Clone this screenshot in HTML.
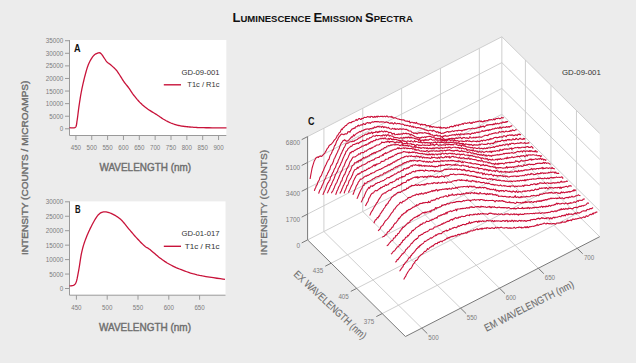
<!DOCTYPE html>
<html><head><meta charset="utf-8"><style>html,body{margin:0;padding:0;background:#ececec;}svg{display:block;}</style></head>
<body><svg width="636" height="363" viewBox="0 0 636 363">
<rect width="636" height="363" fill="#ececec"/>
<text x="232.5" y="22.3" font-family="Liberation Sans" font-weight="bold" fill="#111" textLength="180.3" lengthAdjust="spacingAndGlyphs"><tspan font-size="11.9">L</tspan><tspan font-size="8.7">UMINESCENCE</tspan><tspan font-size="8.7"> </tspan><tspan font-size="11.9">E</tspan><tspan font-size="8.7">MISSION</tspan><tspan font-size="8.7"> </tspan><tspan font-size="11.9">S</tspan><tspan font-size="8.7">PECTRA</tspan></text>
<rect x="69.5" y="40" width="156.8" height="95.5" fill="#fff"/>
<path d="M69.5 40 V135.5 H226.3" fill="none" stroke="#9a9a9a" stroke-width="1"/>
<text x="63.3" y="131.3" font-family="Liberation Sans" font-size="7" fill="#7c7c7c" text-anchor="end" font-weight="normal" textLength="3.5" lengthAdjust="spacingAndGlyphs" >0</text>
<text x="63.3" y="118.72" font-family="Liberation Sans" font-size="7" fill="#7c7c7c" text-anchor="end" font-weight="normal" textLength="14" lengthAdjust="spacingAndGlyphs" >5000</text>
<text x="63.3" y="106.13" font-family="Liberation Sans" font-size="7" fill="#7c7c7c" text-anchor="end" font-weight="normal" textLength="17.5" lengthAdjust="spacingAndGlyphs" >10000</text>
<text x="63.3" y="93.55" font-family="Liberation Sans" font-size="7" fill="#7c7c7c" text-anchor="end" font-weight="normal" textLength="17.5" lengthAdjust="spacingAndGlyphs" >15000</text>
<text x="63.3" y="80.96" font-family="Liberation Sans" font-size="7" fill="#7c7c7c" text-anchor="end" font-weight="normal" textLength="17.5" lengthAdjust="spacingAndGlyphs" >20000</text>
<text x="63.3" y="68.38" font-family="Liberation Sans" font-size="7" fill="#7c7c7c" text-anchor="end" font-weight="normal" textLength="17.5" lengthAdjust="spacingAndGlyphs" >25000</text>
<text x="63.3" y="55.79" font-family="Liberation Sans" font-size="7" fill="#7c7c7c" text-anchor="end" font-weight="normal" textLength="17.5" lengthAdjust="spacingAndGlyphs" >30000</text>
<text x="63.3" y="43.21" font-family="Liberation Sans" font-size="7" fill="#7c7c7c" text-anchor="end" font-weight="normal" textLength="17.5" lengthAdjust="spacingAndGlyphs" >35000</text>
<text x="75.9" y="149.9" font-family="Liberation Sans" font-size="7" fill="#7c7c7c" text-anchor="middle" font-weight="normal" textLength="10.3" lengthAdjust="spacingAndGlyphs" >450</text>
<text x="91.75" y="149.9" font-family="Liberation Sans" font-size="7" fill="#7c7c7c" text-anchor="middle" font-weight="normal" textLength="10.3" lengthAdjust="spacingAndGlyphs" >500</text>
<text x="107.6" y="149.9" font-family="Liberation Sans" font-size="7" fill="#7c7c7c" text-anchor="middle" font-weight="normal" textLength="10.3" lengthAdjust="spacingAndGlyphs" >550</text>
<text x="123.45" y="149.9" font-family="Liberation Sans" font-size="7" fill="#7c7c7c" text-anchor="middle" font-weight="normal" textLength="10.3" lengthAdjust="spacingAndGlyphs" >600</text>
<text x="139.3" y="149.9" font-family="Liberation Sans" font-size="7" fill="#7c7c7c" text-anchor="middle" font-weight="normal" textLength="10.3" lengthAdjust="spacingAndGlyphs" >650</text>
<text x="155.15" y="149.9" font-family="Liberation Sans" font-size="7" fill="#7c7c7c" text-anchor="middle" font-weight="normal" textLength="10.3" lengthAdjust="spacingAndGlyphs" >700</text>
<text x="171" y="149.9" font-family="Liberation Sans" font-size="7" fill="#7c7c7c" text-anchor="middle" font-weight="normal" textLength="10.3" lengthAdjust="spacingAndGlyphs" >750</text>
<text x="186.85" y="149.9" font-family="Liberation Sans" font-size="7" fill="#7c7c7c" text-anchor="middle" font-weight="normal" textLength="10.3" lengthAdjust="spacingAndGlyphs" >800</text>
<text x="202.7" y="149.9" font-family="Liberation Sans" font-size="7" fill="#7c7c7c" text-anchor="middle" font-weight="normal" textLength="10.3" lengthAdjust="spacingAndGlyphs" >850</text>
<text x="218.55" y="149.9" font-family="Liberation Sans" font-size="7" fill="#7c7c7c" text-anchor="middle" font-weight="normal" textLength="10.3" lengthAdjust="spacingAndGlyphs" >900</text>
<path d="M65 128.8 H69.5 M65 116.22 H69.5 M65 103.63 H69.5 M65 91.05 H69.5 M65 78.46 H69.5 M65 65.88 H69.5 M65 53.29 H69.5 M65 40.71 H69.5 M75.9 135.5 V140 M91.75 135.5 V140 M107.6 135.5 V140 M123.45 135.5 V140 M139.3 135.5 V140 M155.15 135.5 V140 M171 135.5 V140 M186.85 135.5 V140 M202.7 135.5 V140 M218.55 135.5 V140" stroke="#9a9a9a" stroke-width="1" fill="none"/>
<path d="M69.5 127.7 L69.98 127.71 L70.66 127.78 L71.46 127.86 L72.34 127.92 L73.24 127.94 L74.08 127.86 L74.82 127.66 L75.4 127.3 L75.81 126.8 L76.12 126.21 L76.34 125.52 L76.51 124.72 L76.64 123.83 L76.77 122.83 L76.91 121.72 L77.1 120.5 L77.32 119.13 L77.53 117.61 L77.74 115.96 L77.96 114.21 L78.18 112.39 L78.41 110.55 L78.65 108.71 L78.9 106.9 L79.17 105.1 L79.44 103.26 L79.72 101.4 L80.01 99.53 L80.31 97.64 L80.62 95.75 L80.95 93.87 L81.3 92 L81.67 90.13 L82.05 88.24 L82.45 86.34 L82.87 84.44 L83.29 82.57 L83.73 80.73 L84.16 78.93 L84.6 77.2 L85.04 75.51 L85.47 73.84 L85.91 72.21 L86.35 70.62 L86.81 69.07 L87.28 67.58 L87.78 66.16 L88.3 64.8 L88.85 63.5 L89.44 62.24 L90.05 61.02 L90.67 59.88 L91.3 58.8 L91.94 57.8 L92.57 56.9 L93.2 56.1 L93.83 55.41 L94.49 54.82 L95.16 54.32 L95.83 53.91 L96.47 53.57 L97.1 53.29 L97.67 53.07 L98.2 52.9 L98.66 52.78 L99.06 52.73 L99.42 52.73 L99.75 52.8 L100.07 52.93 L100.39 53.12 L100.73 53.38 L101.1 53.7 L101.51 54.12 L101.94 54.65 L102.38 55.26 L102.82 55.93 L103.27 56.62 L103.7 57.3 L104.11 57.93 L104.5 58.5 L104.85 59 L105.16 59.48 L105.46 59.94 L105.74 60.38 L106.02 60.8 L106.32 61.2 L106.64 61.6 L107 62 L107.39 62.37 L107.78 62.7 L108.19 63 L108.62 63.31 L109.07 63.62 L109.55 63.96 L110.06 64.35 L110.6 64.8 L111.2 65.31 L111.86 65.88 L112.55 66.48 L113.27 67.12 L114 67.78 L114.71 68.45 L115.38 69.13 L116 69.8 L116.57 70.47 L117.1 71.16 L117.6 71.85 L118.08 72.56 L118.55 73.27 L119.03 74 L119.5 74.74 L120 75.5 L120.5 76.28 L121.01 77.09 L121.51 77.91 L122.01 78.74 L122.52 79.58 L123.04 80.41 L123.56 81.22 L124.1 82 L124.65 82.75 L125.2 83.45 L125.76 84.14 L126.32 84.82 L126.9 85.52 L127.49 86.23 L128.09 86.99 L128.7 87.8 L129.32 88.67 L129.95 89.6 L130.58 90.56 L131.23 91.54 L131.89 92.54 L132.57 93.54 L133.28 94.53 L134 95.5 L134.75 96.46 L135.52 97.42 L136.31 98.38 L137.11 99.34 L137.94 100.29 L138.78 101.22 L139.63 102.13 L140.5 103 L141.38 103.84 L142.27 104.66 L143.18 105.45 L144.1 106.22 L145.04 106.98 L146 107.72 L146.99 108.46 L148 109.2 L149.06 109.93 L150.17 110.66 L151.31 111.38 L152.48 112.09 L153.63 112.79 L154.77 113.48 L155.86 114.15 L156.9 114.8 L157.88 115.44 L158.81 116.07 L159.7 116.68 L160.57 117.28 L161.43 117.86 L162.28 118.43 L163.13 118.98 L164 119.5 L164.87 120 L165.73 120.49 L166.59 120.95 L167.45 121.4 L168.31 121.83 L169.17 122.24 L170.03 122.63 L170.9 123 L171.78 123.35 L172.66 123.69 L173.55 124 L174.44 124.29 L175.34 124.57 L176.23 124.83 L177.12 125.07 L178 125.3 L178.86 125.5 L179.69 125.68 L180.5 125.84 L181.32 125.99 L182.16 126.12 L183.04 126.25 L183.98 126.37 L185 126.5 L186.12 126.63 L187.32 126.76 L188.59 126.89 L189.89 127.01 L191.21 127.12 L192.52 127.22 L193.79 127.32 L195 127.4 L196.05 127.47 L196.94 127.52 L197.74 127.56 L198.55 127.59 L199.46 127.62 L200.56 127.65 L201.95 127.67 L203.7 127.7 L206.03 127.73 L208.94 127.76 L212.22 127.79 L215.64 127.82 L219 127.84 L222.07 127.87 L224.64 127.89 L226.5 127.9" fill="none" stroke="#c8133a" stroke-width="1.3" stroke-linejoin="round"/>
<text x="73.9" y="51.6" font-family="Liberation Sans" font-size="10.4" fill="#111" text-anchor="start" font-weight="bold" textLength="6.6" lengthAdjust="spacingAndGlyphs" >A</text>
<text x="219.5" y="74.7" font-family="Liberation Sans" font-size="7.5" fill="#333" text-anchor="end" font-weight="normal" textLength="38" lengthAdjust="spacingAndGlyphs" >GD-09-001</text>
<path d="M163.8 84.8 H181" stroke="#c8133a" stroke-width="1.4"/>
<text x="187.3" y="87.4" font-family="Liberation Sans" font-size="7.5" fill="#333" text-anchor="start" font-weight="normal" textLength="32.2" lengthAdjust="spacingAndGlyphs" >T1c / R1c</text>
<rect x="69.5" y="201.4" width="156" height="93.8" fill="#fff"/>
<path d="M69.5 201.4 V295.2 H225.5" fill="none" stroke="#9a9a9a" stroke-width="1"/>
<text x="63.3" y="291" font-family="Liberation Sans" font-size="7" fill="#7c7c7c" text-anchor="end" font-weight="normal" textLength="3.5" lengthAdjust="spacingAndGlyphs" >0</text>
<text x="63.3" y="276.55" font-family="Liberation Sans" font-size="7" fill="#7c7c7c" text-anchor="end" font-weight="normal" textLength="14" lengthAdjust="spacingAndGlyphs" >5000</text>
<text x="63.3" y="262.1" font-family="Liberation Sans" font-size="7" fill="#7c7c7c" text-anchor="end" font-weight="normal" textLength="17.5" lengthAdjust="spacingAndGlyphs" >10000</text>
<text x="63.3" y="247.65" font-family="Liberation Sans" font-size="7" fill="#7c7c7c" text-anchor="end" font-weight="normal" textLength="17.5" lengthAdjust="spacingAndGlyphs" >15000</text>
<text x="63.3" y="233.2" font-family="Liberation Sans" font-size="7" fill="#7c7c7c" text-anchor="end" font-weight="normal" textLength="17.5" lengthAdjust="spacingAndGlyphs" >20000</text>
<text x="63.3" y="218.75" font-family="Liberation Sans" font-size="7" fill="#7c7c7c" text-anchor="end" font-weight="normal" textLength="17.5" lengthAdjust="spacingAndGlyphs" >25000</text>
<text x="63.3" y="204.3" font-family="Liberation Sans" font-size="7" fill="#7c7c7c" text-anchor="end" font-weight="normal" textLength="17.5" lengthAdjust="spacingAndGlyphs" >30000</text>
<text x="76.4" y="309.8" font-family="Liberation Sans" font-size="7" fill="#7c7c7c" text-anchor="middle" font-weight="normal" textLength="10.3" lengthAdjust="spacingAndGlyphs" >450</text>
<text x="107.2" y="309.8" font-family="Liberation Sans" font-size="7" fill="#7c7c7c" text-anchor="middle" font-weight="normal" textLength="10.3" lengthAdjust="spacingAndGlyphs" >500</text>
<text x="138" y="309.8" font-family="Liberation Sans" font-size="7" fill="#7c7c7c" text-anchor="middle" font-weight="normal" textLength="10.3" lengthAdjust="spacingAndGlyphs" >550</text>
<text x="168.8" y="309.8" font-family="Liberation Sans" font-size="7" fill="#7c7c7c" text-anchor="middle" font-weight="normal" textLength="10.3" lengthAdjust="spacingAndGlyphs" >600</text>
<text x="199.6" y="309.8" font-family="Liberation Sans" font-size="7" fill="#7c7c7c" text-anchor="middle" font-weight="normal" textLength="10.3" lengthAdjust="spacingAndGlyphs" >650</text>
<path d="M65 288.5 H69.5 M65 274.05 H69.5 M65 259.6 H69.5 M65 245.15 H69.5 M65 230.7 H69.5 M65 216.25 H69.5 M65 201.8 H69.5 M76.4 295.2 V299.7 M107.2 295.2 V299.7 M138 295.2 V299.7 M168.8 295.2 V299.7 M199.6 295.2 V299.7" stroke="#9a9a9a" stroke-width="1" fill="none"/>
<path d="M69.5 285.8 L69.84 285.78 L70.31 285.78 L70.87 285.78 L71.48 285.76 L72.12 285.72 L72.74 285.62 L73.31 285.45 L73.8 285.2 L74.21 284.91 L74.59 284.61 L74.93 284.28 L75.26 283.88 L75.57 283.38 L75.87 282.75 L76.18 281.97 L76.5 281 L76.83 279.81 L77.16 278.43 L77.48 276.89 L77.81 275.22 L78.13 273.46 L78.45 271.65 L78.78 269.81 L79.1 268 L79.42 266.15 L79.72 264.2 L80.02 262.2 L80.32 260.16 L80.63 258.12 L80.96 256.11 L81.31 254.16 L81.7 252.3 L82.11 250.55 L82.52 248.87 L82.95 247.25 L83.41 245.67 L83.89 244.09 L84.41 242.51 L84.98 240.88 L85.6 239.2 L86.29 237.43 L87.04 235.6 L87.84 233.72 L88.68 231.83 L89.54 229.96 L90.41 228.15 L91.26 226.42 L92.1 224.8 L92.92 223.26 L93.75 221.74 L94.57 220.26 L95.4 218.86 L96.23 217.55 L97.05 216.36 L97.88 215.3 L98.7 214.4 L99.51 213.67 L100.3 213.08 L101.08 212.63 L101.87 212.29 L102.66 212.05 L103.48 211.9 L104.32 211.82 L105.2 211.8 L106.12 211.86 L107.08 212.02 L108.06 212.28 L109.07 212.61 L110.08 213.01 L111.1 213.45 L112.11 213.92 L113.1 214.4 L114.08 214.9 L115.06 215.42 L116.03 215.98 L117.01 216.59 L117.98 217.24 L118.95 217.96 L119.93 218.74 L120.9 219.6 L121.87 220.56 L122.85 221.62 L123.82 222.76 L124.79 223.96 L125.77 225.18 L126.74 226.41 L127.72 227.63 L128.7 228.8 L129.68 229.95 L130.67 231.11 L131.66 232.27 L132.65 233.43 L133.64 234.58 L134.63 235.71 L135.62 236.82 L136.6 237.9 L137.59 238.97 L138.61 240.06 L139.63 241.13 L140.64 242.18 L141.64 243.19 L142.61 244.14 L143.53 245.02 L144.4 245.8 L145.18 246.44 L145.85 246.93 L146.47 247.33 L147.07 247.68 L147.68 248.03 L148.35 248.43 L149.11 248.94 L150 249.6 L151.03 250.43 L152.17 251.4 L153.39 252.46 L154.68 253.57 L155.99 254.71 L157.32 255.84 L158.63 256.91 L159.9 257.9 L161.12 258.81 L162.32 259.69 L163.5 260.53 L164.69 261.35 L165.91 262.15 L167.17 262.94 L168.5 263.72 L169.9 264.5 L171.37 265.28 L172.9 266.05 L174.47 266.8 L176.09 267.55 L177.77 268.28 L179.49 269 L181.27 269.71 L183.1 270.4 L184.94 271.07 L186.78 271.74 L188.65 272.38 L190.59 273.02 L192.62 273.64 L194.77 274.24 L197.09 274.83 L199.6 275.4 L202.52 275.98 L205.92 276.56 L209.59 277.15 L213.33 277.71 L216.94 278.24 L220.23 278.7 L222.98 279.1 L225 279.4" fill="none" stroke="#c8133a" stroke-width="1.3" stroke-linejoin="round"/>
<text x="75" y="213" font-family="Liberation Sans" font-size="10.4" fill="#111" text-anchor="start" font-weight="bold" textLength="5.6" lengthAdjust="spacingAndGlyphs" >B</text>
<text x="219.5" y="236.3" font-family="Liberation Sans" font-size="7.5" fill="#333" text-anchor="end" font-weight="normal" textLength="38" lengthAdjust="spacingAndGlyphs" >GD-01-017</text>
<path d="M163.8 246.3 H181" stroke="#c8133a" stroke-width="1.4"/>
<text x="184.7" y="248.9" font-family="Liberation Sans" font-size="7.5" fill="#333" text-anchor="start" font-weight="normal" textLength="34.8" lengthAdjust="spacingAndGlyphs" >T1c / R1c</text>
<text x="145.3" y="171.1" font-family="Liberation Sans" font-size="10.2" fill="#6e6e6e" text-anchor="middle" font-weight="normal" textLength="91.7" lengthAdjust="spacingAndGlyphs" stroke="#6e6e6e" stroke-width="0.4">WAVELENGTH (nm)</text>
<text x="145" y="331.4" font-family="Liberation Sans" font-size="10.2" fill="#6e6e6e" text-anchor="middle" font-weight="normal" textLength="92" lengthAdjust="spacingAndGlyphs" stroke="#6e6e6e" stroke-width="0.4">WAVELENGTH (nm)</text>
<g transform="translate(28.0 167.8) rotate(-90)"><text x="0" y="0" font-family="Liberation Sans" font-size="9.9" font-weight="normal" fill="#6e6e6e" stroke="#6e6e6e" stroke-width="0.4" text-anchor="middle" textLength="174.3" lengthAdjust="spacingAndGlyphs">INTENSITY (COUNTS / MICROAMPS)</text></g>
<path d="M307.6 239.9 L307.6 136.6 L501.85 36.8 L501.85 140.1Z M501.85 140.1 L501.85 36.8 L599.7 133.4 L599.7 236.7Z M307.6 239.9 L501.85 140.1 L599.7 236.7 L405.45 336.5Z" fill="#fff"/>
<path d="M323.92 231.52 L323.92 128.22 M323.92 231.52 L421.77 328.12 M362.77 211.56 L362.77 108.26 M362.77 211.56 L460.62 308.16 M401.62 191.6 L401.62 88.3 M401.62 191.6 L499.47 288.2 M440.47 171.64 L440.47 68.34 M440.47 171.64 L538.32 268.24 M479.32 151.68 L479.32 48.38 M479.32 151.68 L577.17 248.28 M525.42 163.37 L525.42 60.07 M331.17 263.17 L525.42 163.37 M550.95 188.57 L550.95 85.27 M356.7 288.37 L550.95 188.57 M576.47 213.77 L576.47 110.47 M382.22 313.57 L576.47 213.77 M307.6 214.08 L501.85 114.28 M501.85 114.28 L599.7 210.88 M307.6 188.25 L501.85 88.45 M501.85 88.45 L599.7 185.05 M307.6 162.43 L501.85 62.63 M501.85 62.63 L599.7 159.23 M307.6 136.6 L501.85 36.8 M501.85 36.8 L599.7 133.4 M307.6 239.9 L501.85 140.1 M501.85 140.1 L599.7 236.7 M501.85 140.1 L501.85 36.8" stroke="#c9c9c9" stroke-width="0.9" fill="none"/>
<path d="M307.6 239.9 L307.6 136.6 M307.6 239.9 L405.45 336.5 M405.45 336.5 L599.7 236.7 M307.6 239.9 L301.69 242.93 M307.6 214.08 L301.69 217.11 M307.6 188.25 L301.69 191.28 M307.6 162.43 L301.69 165.46 M307.6 136.6 L301.69 139.63 M331.17 263.17 L325.26 266.2 M356.7 288.37 L350.79 291.4 M382.22 313.57 L376.32 316.6 M421.77 328.12 L427.3 333.58 M460.62 308.16 L466.15 313.62 M499.47 288.2 L505 293.66 M538.32 268.24 L543.85 273.7 M577.17 248.28 L582.7 253.74" stroke="#7a7a7a" stroke-width="1" fill="none"/>
<text x="300.2" y="247.7" font-family="Liberation Sans" font-size="7.6" fill="#7c7c7c" text-anchor="end" font-weight="normal" textLength="3.6" lengthAdjust="spacingAndGlyphs" >0</text>
<text x="300.2" y="222.2" font-family="Liberation Sans" font-size="7.6" fill="#7c7c7c" text-anchor="end" font-weight="normal" textLength="14.4" lengthAdjust="spacingAndGlyphs" >1700</text>
<text x="300.2" y="196.4" font-family="Liberation Sans" font-size="7.6" fill="#7c7c7c" text-anchor="end" font-weight="normal" textLength="14.4" lengthAdjust="spacingAndGlyphs" >3400</text>
<text x="300.2" y="170.2" font-family="Liberation Sans" font-size="7.6" fill="#7c7c7c" text-anchor="end" font-weight="normal" textLength="14.4" lengthAdjust="spacingAndGlyphs" >5100</text>
<text x="300.2" y="144.5" font-family="Liberation Sans" font-size="7.6" fill="#7c7c7c" text-anchor="end" font-weight="normal" textLength="14.4" lengthAdjust="spacingAndGlyphs" >6800</text>
<text x="318" y="273" font-family="Liberation Sans" font-size="7.6" fill="#7c7c7c" text-anchor="middle" font-weight="normal" textLength="10.4" lengthAdjust="spacingAndGlyphs" >435</text>
<text x="343.6" y="298.6" font-family="Liberation Sans" font-size="7.6" fill="#7c7c7c" text-anchor="middle" font-weight="normal" textLength="10.4" lengthAdjust="spacingAndGlyphs" >405</text>
<text x="369" y="323.9" font-family="Liberation Sans" font-size="7.6" fill="#7c7c7c" text-anchor="middle" font-weight="normal" textLength="10.4" lengthAdjust="spacingAndGlyphs" >375</text>
<text x="433.5" y="340" font-family="Liberation Sans" font-size="7.6" fill="#7c7c7c" text-anchor="middle" font-weight="normal" textLength="10.4" lengthAdjust="spacingAndGlyphs" >500</text>
<text x="471.9" y="319.9" font-family="Liberation Sans" font-size="7.6" fill="#7c7c7c" text-anchor="middle" font-weight="normal" textLength="10.4" lengthAdjust="spacingAndGlyphs" >550</text>
<text x="510.9" y="300" font-family="Liberation Sans" font-size="7.6" fill="#7c7c7c" text-anchor="middle" font-weight="normal" textLength="10.4" lengthAdjust="spacingAndGlyphs" >600</text>
<text x="549.9" y="280.1" font-family="Liberation Sans" font-size="7.6" fill="#7c7c7c" text-anchor="middle" font-weight="normal" textLength="10.4" lengthAdjust="spacingAndGlyphs" >650</text>
<text x="589.1" y="260" font-family="Liberation Sans" font-size="7.6" fill="#7c7c7c" text-anchor="middle" font-weight="normal" textLength="10.4" lengthAdjust="spacingAndGlyphs" >700</text>
<g transform="translate(267.2 202.5) rotate(-90)"><text x="0" y="0" font-family="Liberation Sans" font-size="9.7" font-weight="normal" fill="#6e6e6e" stroke="#6e6e6e" stroke-width="0.3" text-anchor="middle" textLength="105.4" lengthAdjust="spacingAndGlyphs">INTENSITY (COUNTS)</text></g>
<g transform="translate(327.8 307.4) rotate(43)"><text x="0" y="0" font-family="Liberation Sans" font-size="10.3" font-weight="normal" fill="#6e6e6e" stroke="#6e6e6e" stroke-width="0.12" text-anchor="middle" textLength="95" lengthAdjust="spacingAndGlyphs">EX WAVELENGTH (nm)</text></g>
<g transform="translate(530.5 309.2) rotate(-27)"><text x="0" y="0" font-family="Liberation Sans" font-size="10.3" font-weight="normal" fill="#6e6e6e" stroke="#6e6e6e" stroke-width="0.12" text-anchor="middle" textLength="99" lengthAdjust="spacingAndGlyphs">EM WAVELENGTH (nm)</text></g>
<text x="307.9" y="125.1" font-family="Liberation Sans" font-size="11" fill="#111" text-anchor="start" font-weight="bold" textLength="6.5" lengthAdjust="spacingAndGlyphs" >C</text>
<text x="600.8" y="74.8" font-family="Liberation Sans" font-size="7.5" fill="#333" text-anchor="end" font-weight="normal" textLength="38.8" lengthAdjust="spacingAndGlyphs" >GD-09-001</text>
<path d="M310.09 179 L310.79 174.87 L311.49 171.24 L312.19 167.73 L312.89 165.31 L313.59 163.19 L314.29 160.96 L314.99 159.72 L315.69 158.23 L316.39 157.65 L317.08 157.11 L317.78 156.94 L318.48 157.5 L319.18 156.36 L319.88 156.32 L320.58 156.07 L321.28 156.56 L321.98 156.15 L322.68 155.33 L323.38 154.65 L324.08 153.78 L324.78 153.07 L325.48 151.71 L326.18 150.9 L326.87 149.25 L327.57 148.09 L328.27 147.59 L328.97 145.8 L329.67 145.45 L330.37 144.43 L331.07 144.39 L331.77 143.68 L332.47 142.75 L333.17 141.84 L333.87 140.69 L334.57 139.91 L335.27 139.18 L335.97 138.34 L336.66 137.09 L337.36 135.32 L338.06 135.07 L338.76 133.63 L339.46 132.52 L340.16 132.2 L340.86 130.55 L341.56 129.09 L342.26 129.57 L342.96 128.21 L343.66 127.46 L344.36 127.09 L345.06 125.95 L345.76 125.57 L346.46 125.57 L347.15 124.14 L347.85 123.74 L348.55 123.22 L349.25 122.67 L349.95 122.74 L350.65 122.48 L351.35 122.69 L352.05 121.59 L352.75 121.73 L353.45 121.32 L354.15 121.3 L354.85 120.85 L355.55 120.35 L356.25 119.36 L356.94 120.43 L357.64 119.99 L358.34 119.13 L359.04 118.48 L359.74 118.65 L360.44 119.46 L361.14 119.53 L361.84 118.21 L362.54 118.47 L363.24 118.46 L363.94 117.47 L364.64 117.28 L365.34 117.52 L366.04 117.35 L366.73 117.16 L367.43 116.59 L368.13 116.88 L368.83 116.83 L369.53 116.75 L370.23 117.52 L370.93 116.34 L371.63 116.43 L372.33 116.56 L373.03 117.52 L373.73 116.97 L374.43 116.38 L375.13 117.41 L375.83 116.76 L376.53 116.28 L377.22 117.19 L377.92 116.03 L378.62 116.44 L379.32 116.71 L380.02 116.51 L380.72 116.36 L381.42 116.55 L382.12 116.13 L382.82 116.82 L383.52 116.7 L384.22 116.11 L384.92 116.5 L385.62 116.85 L386.32 116.14 L387.01 115.95 L387.71 116.73 L388.41 117.14 L389.11 116.7 L389.81 116.78 L390.51 116.94 L391.21 116.41 L391.91 117.54 L392.61 116.84 L393.31 118.05 L394.01 118.09 L394.71 117.77 L395.41 117.81 L396.11 118.15 L396.8 118.57 L397.5 118.85 L398.2 119.03 L398.9 119.04 L399.6 119.52 L400.3 119.52 L401 119.58 L401.7 119.98 L402.4 119.85 L403.1 120.1 L403.8 119.7 L404.5 120.54 L405.2 121 L405.9 121.15 L406.59 121.17 L407.29 120.97 L407.99 121.63 L408.69 121.5 L409.39 121.09 L410.09 122.99 L410.79 122.58 L411.49 122.19 L412.19 122.28 L412.89 122.5 L413.59 122.91 L414.29 122.63 L414.99 122.93 L415.69 123.39 L416.39 122.37 L417.08 123.33 L417.78 123.83 L418.48 123.79 L419.18 123.97 L419.88 124.04 L420.58 125.23 L421.28 124.47 L421.98 124.01 L422.68 125.01 L423.38 124.71 L424.08 124.45 L424.78 124.64 L425.48 124.55 L426.18 125.96 L426.87 125.59 L427.57 125.75 L428.27 125.53 L428.97 125.51 L429.67 127.16 L430.37 125.83 L431.07 126.99 L431.77 126.3 L432.47 127.31 L433.17 126.8 L433.87 126.53 L434.57 127.2 L435.27 127.19 L435.97 127.07 L436.66 127.44 L437.36 127.62 L438.06 127.07 L438.76 127.34 L439.46 127.94 L440.16 126.79 L440.86 128.36 L441.56 127.57 L442.26 128.05 L442.96 127.88 L443.66 127.63 L444.36 127.78 L445.06 127.55 L445.76 128.33 L446.46 128.24 L447.15 127.3 L447.85 127.81 L448.55 127.72 L449.25 127.77 L449.95 126.55 L450.65 126.62 L451.35 126.18 L452.05 126.98 L452.75 126.45 L453.45 126.74 L454.15 125.82 L454.85 125.32 L455.55 126.13 L456.25 124.99 L456.94 125.04 L457.64 125.32 L458.34 125.86 L459.04 124.35 L459.74 124.77 L460.44 124.81 L461.14 124.24 L461.84 124.08 L462.54 123.49 L463.24 124.34 L463.94 123.34 L464.64 123.07 L465.34 122.95 L466.04 123.47 L466.73 123.57 L467.43 122.76 L468.13 123.01 L468.83 122.89 L469.53 122.28 L470.23 122.84 L470.93 123.54 L471.63 122.69 L472.33 123.18 L473.03 122.03 L473.73 122.14 L474.43 122.41 L475.13 122.09 L475.83 121.67 L476.52 121.88 L477.22 121.3 L477.92 121.77 L478.62 121.24 L479.32 120.98 L480.02 120.85 L480.72 121.66 L481.42 120.96 L482.12 121.96 L482.82 121.55 L483.52 121.81 L484.22 120.52 L484.92 121.33 L485.62 120.75 L486.32 120.71 L487.01 120.54 L487.71 120.66 L488.41 120.22 L489.11 119.49 L489.81 120.06 L490.51 119.74 L491.21 119.43 L491.91 119.77 L492.61 120.06 L493.31 119.65 L494.01 118.87 L494.71 119.81 L495.41 119.26 L496.11 118.49 L496.8 118.43 L497.5 118.6 L498.2 118.14 L498.9 118.26 L499.6 118.65 L500.3 118.66 L501 118.15 L501.7 117.39 L502.4 117.84 L503.1 117.83 L503.8 117.64 M314.35 190.93 L315.05 188.72 L315.74 187.51 L316.44 185.29 L317.14 184.8 L317.84 182.18 L318.54 181.04 L319.24 180.03 L319.94 177.47 L320.64 176.37 L321.34 175.64 L322.04 173.63 L322.74 171.69 L323.44 170.51 L324.14 168.53 L324.84 167.06 L325.53 165.61 L326.23 164.26 L326.93 162.37 L327.63 161.15 L328.33 159.74 L329.03 159.24 L329.73 156.56 L330.43 154.89 L331.13 154.02 L331.83 152.58 L332.53 150.11 L333.23 150.06 L333.93 147.66 L334.63 145.36 L335.32 145.14 L336.02 142.96 L336.72 140.94 L337.42 140.2 L338.12 138.45 L338.82 136.95 L339.52 136.49 L340.22 135.25 L340.92 134.52 L341.62 134.05 L342.32 134.3 L343.02 134.37 L343.72 134.69 L344.42 134.38 L345.12 133.76 L345.81 133.85 L346.51 133.93 L347.21 133.56 L347.91 131.74 L348.61 131.87 L349.31 131.55 L350.01 132.28 L350.71 130.46 L351.41 129.95 L352.11 128.92 L352.81 128.89 L353.51 128.57 L354.21 127.86 L354.91 128.38 L355.6 126.78 L356.3 126.68 L357 126.73 L357.7 125.6 L358.4 125.12 L359.1 126.13 L359.8 125.6 L360.5 125.01 L361.2 124.86 L361.9 124.91 L362.6 124.96 L363.3 123.57 L364 123.82 L364.7 124.53 L365.39 124.41 L366.09 123.01 L366.79 123.1 L367.49 122.56 L368.19 122.75 L368.89 123.2 L369.59 122.54 L370.29 123.3 L370.99 122.56 L371.69 122.14 L372.39 121.79 L373.09 122.2 L373.79 121.9 L374.49 121.62 L375.19 121.62 L375.88 121.5 L376.58 121.65 L377.28 121.86 L377.98 121.42 L378.68 121.72 L379.38 122.09 L380.08 122.03 L380.78 121.81 L381.48 121.88 L382.18 121.82 L382.88 121.92 L383.58 121.91 L384.28 122.09 L384.98 122.62 L385.67 122.05 L386.37 121.91 L387.07 122.26 L387.77 122.62 L388.47 122.47 L389.17 123.13 L389.87 123.57 L390.57 122.87 L391.27 123.32 L391.97 122.7 L392.67 123.46 L393.37 124.11 L394.07 123.53 L394.77 122.55 L395.46 123.41 L396.16 123.89 L396.86 123.77 L397.56 123.39 L398.26 123.53 L398.96 123.8 L399.66 123.42 L400.36 123.88 L401.06 124.32 L401.76 124.23 L402.46 123.96 L403.16 124.39 L403.86 124.53 L404.56 125.52 L405.25 125.31 L405.95 125.12 L406.65 125.69 L407.35 125.33 L408.05 125.71 L408.75 125.79 L409.45 126.43 L410.15 125.53 L410.85 126.22 L411.55 126.96 L412.25 126.98 L412.95 126.11 L413.65 127.38 L414.35 127 L415.05 127.05 L415.74 127.52 L416.44 128.07 L417.14 127.62 L417.84 127.64 L418.54 127.43 L419.24 127.67 L419.94 128.1 L420.64 127.92 L421.34 128.22 L422.04 128.54 L422.74 128.81 L423.44 129.13 L424.14 128.97 L424.84 129.86 L425.53 129.88 L426.23 129.81 L426.93 130.56 L427.63 130.31 L428.33 131.05 L429.03 130.63 L429.73 130.22 L430.43 130.29 L431.13 130.6 L431.83 130.74 L432.53 131.29 L433.23 130.12 L433.93 130.78 L434.63 130.72 L435.32 131.69 L436.02 131.63 L436.72 132.49 L437.42 131.67 L438.12 131.81 L438.82 133.11 L439.52 132.54 L440.22 132.39 L440.92 133.43 L441.62 133.51 L442.32 133.22 L443.02 133.03 L443.72 133.28 L444.42 132.63 L445.12 132.43 L445.81 132.15 L446.51 131.97 L447.21 131.5 L447.91 131.47 L448.61 132.28 L449.31 131.8 L450.01 131.87 L450.71 131.74 L451.41 131.21 L452.11 131.06 L452.81 130.77 L453.51 131.51 L454.21 131.3 L454.91 130.76 L455.6 130.78 L456.3 130.78 L457 130.64 L457.7 130.87 L458.4 130.24 L459.1 130.31 L459.8 130.42 L460.5 130.57 L461.2 130.29 L461.9 131.2 L462.6 130.41 L463.3 129.89 L464 130.38 L464.7 129.58 L465.39 129.47 L466.09 129.94 L466.79 129.37 L467.49 129.26 L468.19 128.84 L468.89 128.66 L469.59 128.81 L470.29 129.03 L470.99 128.66 L471.69 128.54 L472.39 128.14 L473.09 128.23 L473.79 128.54 L474.49 128.7 L475.18 128.22 L475.88 128.26 L476.58 128.3 L477.28 127.78 L477.98 127.81 L478.68 127.44 L479.38 127.14 L480.08 127.36 L480.78 126.13 L481.48 127.03 L482.18 126.31 L482.88 126.54 L483.58 125.98 L484.28 127.2 L484.98 126.4 L485.67 125.84 L486.37 125.54 L487.07 124.69 L487.77 125.33 L488.47 124.79 L489.17 124.84 L489.87 124.62 L490.57 124.65 L491.27 124.78 L491.97 124.39 L492.67 124.89 L493.37 123.88 L494.07 124.64 L494.77 124.04 L495.46 123.2 L496.16 124.04 L496.86 123.85 L497.56 123.3 L498.26 123.65 L498.96 123.87 L499.66 123.33 L500.36 123.07 L501.06 122.88 L501.76 123.31 L502.46 122.16 L503.16 122.03 L503.86 122.52 L504.56 122.26 L505.25 122.37 L505.95 121.48 L506.65 122.16 L507.35 121.45 L508.05 121.74 M318.6 193.56 L319.3 191.53 L320 189.8 L320.7 188.84 L321.4 187.59 L322.1 185.49 L322.8 184.3 L323.5 182.62 L324.19 180.61 L324.89 179.22 L325.59 178.33 L326.29 175.68 L326.99 175.03 L327.69 173.17 L328.39 172.19 L329.09 170.41 L329.79 169.54 L330.49 166.6 L331.19 165.22 L331.89 164.7 L332.59 163.27 L333.29 161.78 L333.98 159.14 L334.68 158.25 L335.38 156.55 L336.08 155.11 L336.78 153.47 L337.48 152.28 L338.18 150.25 L338.88 149.22 L339.58 147.07 L340.28 145.33 L340.98 143.74 L341.68 142.65 L342.38 141.79 L343.08 140.6 L343.78 140.52 L344.47 139.72 L345.17 140.25 L345.87 140.87 L346.57 141.15 L347.27 141.1 L347.97 140.84 L348.67 140.12 L349.37 139.3 L350.07 138.61 L350.77 137.98 L351.47 136.76 L352.17 137.26 L352.87 136.39 L353.57 134.72 L354.26 136.01 L354.96 134.95 L355.66 134.16 L356.36 133.68 L357.06 133.11 L357.76 132.91 L358.46 132.24 L359.16 131.95 L359.86 131.28 L360.56 131.98 L361.26 131.25 L361.96 130.59 L362.66 130.73 L363.36 130.48 L364.05 129.6 L364.75 129.92 L365.45 129.24 L366.15 129.05 L366.85 129.09 L367.55 128.91 L368.25 129.05 L368.95 129.48 L369.65 128.84 L370.35 128.55 L371.05 128.81 L371.75 128.48 L372.45 127.94 L373.15 128.37 L373.84 127.55 L374.54 126.85 L375.24 127.61 L375.94 127.15 L376.64 127.12 L377.34 126.33 L378.04 126.72 L378.74 126.43 L379.44 127.01 L380.14 126.73 L380.84 126.73 L381.54 127.45 L382.24 126.23 L382.94 126.5 L383.64 127.62 L384.33 126.73 L385.03 127.18 L385.73 127.06 L386.43 127.23 L387.13 128.12 L387.83 127.78 L388.53 127.3 L389.23 128.33 L389.93 128.72 L390.63 129.06 L391.33 129.2 L392.03 128.74 L392.73 128.34 L393.43 128.94 L394.12 129.08 L394.82 128.33 L395.52 129.4 L396.22 129.42 L396.92 128.89 L397.62 128.81 L398.32 129.36 L399.02 129.36 L399.72 128.74 L400.42 128.74 L401.12 129.35 L401.82 128.95 L402.52 129.14 L403.22 128.83 L403.91 129.18 L404.61 129.32 L405.31 129.6 L406.01 129.25 L406.71 129.34 L407.41 130.29 L408.11 130.09 L408.81 131.01 L409.51 131 L410.21 131.05 L410.91 131.07 L411.61 132.14 L412.31 132.33 L413.01 132.5 L413.71 133.39 L414.4 132.96 L415.1 133.33 L415.8 132.97 L416.5 133.57 L417.2 133.88 L417.9 133.03 L418.6 132.88 L419.3 133.13 L420 132.48 L420.7 132.88 L421.4 132.95 L422.1 132.49 L422.8 133.29 L423.5 132.95 L424.19 132.74 L424.89 132.48 L425.59 132.99 L426.29 132.96 L426.99 133.52 L427.69 133.36 L428.39 133.06 L429.09 134.24 L429.79 133.3 L430.49 134.77 L431.19 134.77 L431.89 134.96 L432.59 134.84 L433.29 135.89 L433.98 136.34 L434.68 135.36 L435.38 135.37 L436.08 135.52 L436.78 134.81 L437.48 135.85 L438.18 135.91 L438.88 135.72 L439.58 136.02 L440.28 135.57 L440.98 136.76 L441.68 136.45 L442.38 137.68 L443.08 136 L443.77 136.45 L444.47 135.89 L445.17 135.35 L445.87 136.12 L446.57 136.12 L447.27 136.1 L447.97 136.12 L448.67 135.92 L449.37 135.31 L450.07 135.43 L450.77 135.32 L451.47 135.31 L452.17 134.79 L452.87 134.86 L453.57 135.03 L454.26 134.64 L454.96 134.89 L455.66 135.21 L456.36 134.12 L457.06 134.45 L457.76 134.96 L458.46 134.1 L459.16 134.34 L459.86 135.05 L460.56 133.75 L461.26 134.2 L461.96 133.94 L462.66 134.16 L463.36 134.25 L464.05 134.76 L464.75 133.71 L465.45 134.04 L466.15 134.11 L466.85 133.81 L467.55 133.87 L468.25 133.58 L468.95 133.94 L469.65 133.75 L470.35 134.52 L471.05 133.78 L471.75 133.28 L472.45 132.95 L473.15 133.54 L473.84 133.35 L474.54 132.57 L475.24 133.2 L475.94 132.64 L476.64 132.11 L477.34 132.6 L478.04 131.96 L478.74 132.56 L479.44 132.02 L480.14 131.97 L480.84 131.72 L481.54 131.15 L482.24 130.48 L482.94 131.52 L483.64 131.32 L484.33 130.73 L485.03 131.18 L485.73 130.4 L486.43 130.21 L487.13 130.38 L487.83 129.9 L488.53 130.57 L489.23 129.5 L489.93 130.26 L490.63 129.77 L491.33 129.57 L492.03 129.37 L492.73 128.73 L493.43 128.91 L494.12 128.97 L494.82 128.47 L495.52 127.95 L496.22 128.46 L496.92 128.21 L497.62 127.75 L498.32 128.04 L499.02 128.55 L499.72 126.96 L500.42 126.97 L501.12 128.53 L501.82 127.66 L502.52 127.38 L503.22 127.06 L503.91 127.08 L504.61 127.34 L505.31 127.54 L506.01 126.97 L506.71 126.49 L507.41 127.2 L508.11 127.05 L508.81 126.52 L509.51 127.15 L510.21 126.35 L510.91 126.28 L511.61 125.79 L512.31 126.11 M322.85 194.86 L323.55 193.12 L324.25 191.44 L324.95 190.14 L325.65 188.33 L326.35 186.5 L327.05 184.79 L327.75 183.05 L328.45 182.49 L329.15 180.81 L329.85 180.09 L330.55 176.82 L331.25 176.31 L331.95 174.5 L332.64 172.74 L333.34 171.94 L334.04 169.68 L334.74 168.34 L335.44 167.51 L336.14 165.13 L336.84 163.24 L337.54 162.91 L338.24 160.31 L338.94 159 L339.64 157.34 L340.34 155.79 L341.04 153.88 L341.74 152.9 L342.44 150.89 L343.13 149.84 L343.83 147.88 L344.53 147.06 L345.23 145.49 L345.93 143.68 L346.63 143.4 L347.33 143.08 L348.03 143.08 L348.73 142.69 L349.43 142.13 L350.13 141.72 L350.83 141.81 L351.53 141.65 L352.23 141.71 L352.92 140.94 L353.62 141.36 L354.32 141.11 L355.02 140.19 L355.72 140.13 L356.42 139.86 L357.12 139.55 L357.82 138.98 L358.52 138.19 L359.22 137.86 L359.92 138.05 L360.62 136.98 L361.32 136.67 L362.02 136.75 L362.71 135.67 L363.41 135.73 L364.11 135.41 L364.81 134.65 L365.51 134.14 L366.21 134.66 L366.91 133.96 L367.61 134.25 L368.31 132.78 L369.01 133.69 L369.71 132.85 L370.41 133.42 L371.11 132.7 L371.81 132.01 L372.5 133.77 L373.2 132.82 L373.9 132.34 L374.6 132.46 L375.3 132.57 L376 131.35 L376.7 132.05 L377.4 132.61 L378.1 131.52 L378.8 132.42 L379.5 131.19 L380.2 131.78 L380.9 131.42 L381.6 130.92 L382.3 131.34 L382.99 131.91 L383.69 132.04 L384.39 130.93 L385.09 131.16 L385.79 131.85 L386.49 131.3 L387.19 131.58 L387.89 131.68 L388.59 133.02 L389.29 132.47 L389.99 132.24 L390.69 132.57 L391.39 132.79 L392.09 134.4 L392.78 133.66 L393.48 133.81 L394.18 133.25 L394.88 134.82 L395.58 134.67 L396.28 134.55 L396.98 134.19 L397.68 134.65 L398.38 133.92 L399.08 134.58 L399.78 134.04 L400.48 134.23 L401.18 133.84 L401.88 134.06 L402.57 134.31 L403.27 133.16 L403.97 133.41 L404.67 133.71 L405.37 133.4 L406.07 133.11 L406.77 133.94 L407.47 133.68 L408.17 133.55 L408.87 133.71 L409.57 134.24 L410.27 135.16 L410.97 134.08 L411.67 134.71 L412.37 135.12 L413.06 135.54 L413.76 135.63 L414.46 136.22 L415.16 136.77 L415.86 136.96 L416.56 137.19 L417.26 137.45 L417.96 137.89 L418.66 137.37 L419.36 138.26 L420.06 137.53 L420.76 138.16 L421.46 137.53 L422.16 136.99 L422.85 137.3 L423.55 137.5 L424.25 137.04 L424.95 136.85 L425.65 137.48 L426.35 136.94 L427.05 136.57 L427.75 136.79 L428.45 136.58 L429.15 136.35 L429.85 136.41 L430.55 136.45 L431.25 136.69 L431.95 137.18 L432.64 137.22 L433.34 137.48 L434.04 137.67 L434.74 137.79 L435.44 138.57 L436.14 138.18 L436.84 138.21 L437.54 138.73 L438.24 138.49 L438.94 138.4 L439.64 138.79 L440.34 138.02 L441.04 139.99 L441.74 139.15 L442.43 139.91 L443.13 138.91 L443.83 138.34 L444.53 140.45 L445.23 139.42 L445.93 139.21 L446.63 139.43 L447.33 138.96 L448.03 139.92 L448.73 138.56 L449.43 138.62 L450.13 138.64 L450.83 138.78 L451.53 138.22 L452.23 138.59 L452.92 138.25 L453.62 138.49 L454.32 139.14 L455.02 138.23 L455.72 138.11 L456.42 137.87 L457.12 138.5 L457.82 138.15 L458.52 137.87 L459.22 138.04 L459.92 137.6 L460.62 137.29 L461.32 138.42 L462.02 138.8 L462.71 137.69 L463.41 137.4 L464.11 137.62 L464.81 137.64 L465.51 138.19 L466.21 138.21 L466.91 137.55 L467.61 138.24 L468.31 138.58 L469.01 138.24 L469.71 136.84 L470.41 137.04 L471.11 138.05 L471.81 138.04 L472.5 137.63 L473.2 137.98 L473.9 137.13 L474.6 137.63 L475.3 137.96 L476 136.94 L476.7 137.6 L477.4 137.18 L478.1 137.16 L478.8 137.15 L479.5 136.76 L480.2 137.02 L480.9 137.32 L481.6 137.3 L482.3 136.76 L482.99 136.38 L483.69 135.91 L484.39 135.7 L485.09 135.32 L485.79 135.31 L486.49 135.48 L487.19 135.27 L487.89 135.65 L488.59 134.7 L489.29 134.27 L489.99 134.09 L490.69 134.18 L491.39 134.04 L492.09 133.44 L492.78 133.65 L493.48 133.22 L494.18 133.13 L494.88 133.14 L495.58 132.57 L496.28 133.18 L496.98 132.96 L497.68 133.01 L498.38 132.89 L499.08 131.84 L499.78 131.65 L500.48 132.23 L501.18 131.92 L501.88 131.59 L502.57 131.64 L503.27 131.39 L503.97 132.28 L504.67 131.95 L505.37 131.43 L506.07 130.96 L506.77 131.4 L507.47 131.69 L508.17 131.41 L508.87 131.44 L509.57 131.43 L510.27 130.41 L510.97 131.16 L511.67 130.81 L512.36 129.87 L513.06 130.16 L513.76 130.39 L514.46 130.67 L515.16 130.16 L515.86 129.58 L516.56 129.87 M327.11 193.26 L327.81 192.2 L328.51 190.5 L329.21 189.25 L329.91 187.46 L330.61 185.57 L331.3 185.1 L332 183.01 L332.7 181.34 L333.4 180.12 L334.1 178.47 L334.8 176.48 L335.5 174.46 L336.2 173.45 L336.9 172.03 L337.6 171.22 L338.3 168.3 L339 167.49 L339.7 165.98 L340.4 164.86 L341.09 162.88 L341.79 161.73 L342.49 159.7 L343.19 157.97 L343.89 156.57 L344.59 154.91 L345.29 153.84 L345.99 151.49 L346.69 150.96 L347.39 150.22 L348.09 148.59 L348.79 148.07 L349.49 147.59 L350.19 146.84 L350.89 146.15 L351.58 146.33 L352.28 145.54 L352.98 144.56 L353.68 144.51 L354.38 144.51 L355.08 144.09 L355.78 143.88 L356.48 143.56 L357.18 142.96 L357.88 143.01 L358.58 143.64 L359.28 142.42 L359.98 142.48 L360.68 141.58 L361.37 141.79 L362.07 141.18 L362.77 140.07 L363.47 141.02 L364.17 140.72 L364.87 140.51 L365.57 140.57 L366.27 140.04 L366.97 138.83 L367.67 138.92 L368.37 139.1 L369.07 138.66 L369.77 137.56 L370.47 137.85 L371.16 137.44 L371.86 136.94 L372.56 136.33 L373.26 135.9 L373.96 136.08 L374.66 136.27 L375.36 136.1 L376.06 135.32 L376.76 135.35 L377.46 135.92 L378.16 135.52 L378.86 135.5 L379.56 135.52 L380.26 135.67 L380.96 135.94 L381.65 135.57 L382.35 135.93 L383.05 134.81 L383.75 135.07 L384.45 135.75 L385.15 134.73 L385.85 134.95 L386.55 136.09 L387.25 134.66 L387.95 135.14 L388.65 134.73 L389.35 136.14 L390.05 135.57 L390.75 135.76 L391.44 136 L392.14 136.19 L392.84 136.04 L393.54 137.25 L394.24 137.36 L394.94 137.63 L395.64 137.5 L396.34 137.72 L397.04 137.51 L397.74 137.71 L398.44 137.94 L399.14 138.33 L399.84 138.3 L400.54 137.79 L401.23 137.87 L401.93 138.12 L402.63 138.24 L403.33 137.43 L404.03 138.2 L404.73 137.62 L405.43 137.33 L406.13 137.79 L406.83 137.27 L407.53 137.96 L408.23 137.06 L408.93 137.34 L409.63 138.04 L410.33 137.19 L411.02 137.89 L411.72 137.15 L412.42 138.07 L413.12 138.03 L413.82 138.04 L414.52 138.49 L415.22 138.46 L415.92 139 L416.62 138.73 L417.32 139.21 L418.02 139.34 L418.72 140.71 L419.42 139.35 L420.12 139.96 L420.82 140.82 L421.51 140.2 L422.21 140.14 L422.91 139.96 L423.61 140.83 L424.31 139.79 L425.01 140.42 L425.71 139.35 L426.41 140.27 L427.11 139.84 L427.81 140.14 L428.51 140.32 L429.21 139.35 L429.91 139.34 L430.61 139.04 L431.3 139.29 L432 139.86 L432.7 140.31 L433.4 139.95 L434.1 140.01 L434.8 140.13 L435.5 139.64 L436.2 139.82 L436.9 140.13 L437.6 140.03 L438.3 140.24 L439 140.17 L439.7 140.03 L440.4 140.01 L441.09 140.72 L441.79 141.09 L442.49 139.96 L443.19 140.5 L443.89 140.11 L444.59 141.18 L445.29 140.63 L445.99 140.44 L446.69 140.95 L447.39 140.5 L448.09 139.92 L448.79 139.69 L449.49 139.43 L450.19 140.38 L450.89 140.64 L451.58 139.96 L452.28 139.89 L452.98 140.29 L453.68 140.98 L454.38 140.26 L455.08 140.35 L455.78 140.52 L456.48 141 L457.18 140.76 L457.88 140.63 L458.58 141.22 L459.28 141.77 L459.98 140.96 L460.68 140.95 L461.37 141.18 L462.07 140.87 L462.77 141.49 L463.47 141.33 L464.17 141.44 L464.87 141.13 L465.57 140.75 L466.27 141.5 L466.97 140.61 L467.67 140.83 L468.37 141.14 L469.07 141.23 L469.77 140.76 L470.47 141.54 L471.16 141.51 L471.86 141.88 L472.56 141.27 L473.26 140.91 L473.96 141.22 L474.66 141.24 L475.36 141.47 L476.06 141.29 L476.76 141.88 L477.46 140.85 L478.16 141.38 L478.86 141.59 L479.56 141.37 L480.26 141.32 L480.95 140.56 L481.65 140.37 L482.35 141.21 L483.05 140.19 L483.75 140.07 L484.45 140.51 L485.15 140.72 L485.85 140.27 L486.55 140.06 L487.25 139.51 L487.95 139.62 L488.65 140.11 L489.35 139.04 L490.05 139.57 L490.75 138.43 L491.44 139.1 L492.14 138.73 L492.84 138.62 L493.54 138.34 L494.24 137.45 L494.94 137.47 L495.64 137.42 L496.34 137.38 L497.04 137.97 L497.74 137.43 L498.44 137.3 L499.14 137.34 L499.84 136.63 L500.54 137 L501.23 136.87 L501.93 136.89 L502.63 137.18 L503.33 136.02 L504.03 135.63 L504.73 136 L505.43 136.36 L506.13 136.95 L506.83 135.73 L507.53 135.24 L508.23 135.53 L508.93 135.2 L509.63 134.91 L510.33 134.98 L511.02 135.53 L511.72 134.87 L512.42 134.91 L513.12 135.76 L513.82 135.24 L514.52 135.58 L515.22 134.99 L515.92 134.65 L516.62 135.23 L517.32 135.56 L518.02 134.17 L518.72 134.46 L519.42 133.96 L520.12 135 L520.82 133.99 M331.36 193.31 L332.06 191.77 L332.76 191.09 L333.46 189.34 L334.16 187.95 L334.86 185.94 L335.56 184.37 L336.26 183.19 L336.96 182.2 L337.66 179.82 L338.36 178.74 L339.06 176.75 L339.75 175.34 L340.45 173.25 L341.15 171.88 L341.85 170.95 L342.55 169.07 L343.25 166.95 L343.95 166.28 L344.65 164.32 L345.35 162.45 L346.05 160.86 L346.75 159.61 L347.45 158.83 L348.15 157.37 L348.85 155.42 L349.55 154.17 L350.24 152.39 L350.94 153.04 L351.64 151.69 L352.34 151.36 L353.04 151.88 L353.74 151.14 L354.44 150.36 L355.14 150.24 L355.84 149.74 L356.54 149.13 L357.24 149.27 L357.94 148.41 L358.64 148.5 L359.34 148.11 L360.03 147.34 L360.73 147.44 L361.43 146.76 L362.13 145.91 L362.83 146.2 L363.53 145.94 L364.23 145.27 L364.93 145.38 L365.63 144.48 L366.33 145.09 L367.03 144.01 L367.73 144.13 L368.43 143.91 L369.13 142.57 L369.82 143.27 L370.52 141.91 L371.22 142.01 L371.92 141.36 L372.62 141.99 L373.32 140.81 L374.02 140.39 L374.72 140.7 L375.42 140.4 L376.12 139.1 L376.82 139.73 L377.52 139.73 L378.22 139.59 L378.92 138.98 L379.62 138.88 L380.31 138.83 L381.01 138.13 L381.71 138.86 L382.41 138.48 L383.11 138.04 L383.81 138.98 L384.51 138.15 L385.21 137.82 L385.91 139.07 L386.61 138.97 L387.31 138.97 L388.01 139.31 L388.71 138.44 L389.41 139.4 L390.1 138.53 L390.8 138.23 L391.5 139.52 L392.2 139.1 L392.9 139.84 L393.6 138.89 L394.3 139.61 L395 139.56 L395.7 139.57 L396.4 139.52 L397.1 140.02 L397.8 140.02 L398.5 140.39 L399.2 140.27 L399.89 140.91 L400.59 140.55 L401.29 141.45 L401.99 140.99 L402.69 140.14 L403.39 140.94 L404.09 141.54 L404.79 140.99 L405.49 141.52 L406.19 141.82 L406.89 141.47 L407.59 140.9 L408.29 141.04 L408.99 141.23 L409.68 141.55 L410.38 141.61 L411.08 140.65 L411.78 141.1 L412.48 141.59 L413.18 142.08 L413.88 141.84 L414.58 140.38 L415.28 141.88 L415.98 141.54 L416.68 141.52 L417.38 141.77 L418.08 141.93 L418.78 142.48 L419.48 142.47 L420.17 141.5 L420.87 142.58 L421.57 142.05 L422.27 143.15 L422.97 142.67 L423.67 142.52 L424.37 142.27 L425.07 143.15 L425.77 142.49 L426.47 142.57 L427.17 142.99 L427.87 142.48 L428.57 142.99 L429.27 142.9 L429.96 142.55 L430.66 143.58 L431.36 142.52 L432.06 142.84 L432.76 143 L433.46 142.57 L434.16 142.09 L434.86 142.54 L435.56 141.88 L436.26 142.83 L436.96 142.9 L437.66 141.78 L438.36 142.25 L439.06 142.05 L439.75 142.76 L440.45 142.14 L441.15 142.37 L441.85 142.23 L442.55 142.48 L443.25 142.02 L443.95 142.75 L444.65 142.86 L445.35 143.04 L446.05 141.96 L446.75 142.67 L447.45 142.74 L448.15 142.65 L448.85 142.4 L449.55 142.67 L450.24 142.25 L450.94 142.35 L451.64 142.31 L452.34 142.48 L453.04 142.11 L453.74 142.35 L454.44 142.19 L455.14 142.22 L455.84 142.28 L456.54 143.39 L457.24 142.87 L457.94 143.11 L458.64 142.63 L459.34 143.7 L460.03 143.51 L460.73 143.49 L461.43 143.64 L462.13 143.25 L462.83 143.95 L463.53 143.51 L464.23 144.59 L464.93 144.83 L465.63 143.74 L466.33 144.14 L467.03 144.21 L467.73 144.43 L468.43 144.36 L469.13 145.1 L469.82 144.31 L470.52 144.95 L471.22 144.4 L471.92 144.79 L472.62 145.64 L473.32 145.4 L474.02 144.47 L474.72 144.99 L475.42 145.1 L476.12 144.85 L476.82 145.12 L477.52 145.15 L478.22 144.88 L478.92 144.84 L479.61 144.26 L480.31 144.81 L481.01 144.03 L481.71 144 L482.41 143.97 L483.11 144.16 L483.81 144.44 L484.51 144.35 L485.21 144.36 L485.91 144.49 L486.61 144.11 L487.31 144.21 L488.01 143.18 L488.71 143.49 L489.41 143.73 L490.1 144.17 L490.8 143.28 L491.5 143.27 L492.2 143.38 L492.9 143.24 L493.6 143.53 L494.3 142.26 L495 142.35 L495.7 141.15 L496.4 142.03 L497.1 141.93 L497.8 141.16 L498.5 141.54 L499.2 141.38 L499.89 141.46 L500.59 141.42 L501.29 140.46 L501.99 140.53 L502.69 140.13 L503.39 140.82 L504.09 140.56 L504.79 140.81 L505.49 139.97 L506.19 140.8 L506.89 139.93 L507.59 139.63 L508.29 139.41 L508.99 140.26 L509.68 139.37 L510.38 140.01 L511.08 139.95 L511.78 140.11 L512.48 139.06 L513.18 138.81 L513.88 139.63 L514.58 139.64 L515.28 139.42 L515.98 138.25 L516.68 138.79 L517.38 139.35 L518.08 139.8 L518.78 139.32 L519.48 138.54 L520.17 138.23 L520.87 139.03 L521.57 139.16 L522.27 139.05 L522.97 139.55 L523.67 138.41 L524.37 139.16 L525.07 138.27 M335.62 194.81 L336.32 193.07 L337.02 190.89 L337.72 189.74 L338.41 187.57 L339.11 186.31 L339.81 185.21 L340.51 182.94 L341.21 181.29 L341.91 180.81 L342.61 177.77 L343.31 176.73 L344.01 175.06 L344.71 174.52 L345.41 172.49 L346.11 170.77 L346.81 168.62 L347.51 168.04 L348.21 166.24 L348.9 165.14 L349.6 162.91 L350.3 161.23 L351 160.68 L351.7 159.25 L352.4 158.1 L353.1 157.11 L353.8 156.99 L354.5 156.93 L355.2 156.86 L355.9 156.37 L356.6 155.88 L357.3 155.18 L358 154.89 L358.69 153.84 L359.39 154.02 L360.09 154.2 L360.79 152.81 L361.49 152.68 L362.19 152.66 L362.89 152.63 L363.59 152.73 L364.29 152.05 L364.99 150.93 L365.69 151.26 L366.39 151.12 L367.09 150.18 L367.79 149.81 L368.48 149.33 L369.18 148.96 L369.88 148.32 L370.58 148.87 L371.28 147.81 L371.98 148.24 L372.68 147.23 L373.38 147.09 L374.08 146.71 L374.78 146.08 L375.48 146.11 L376.18 145.32 L376.88 145.06 L377.58 145 L378.27 144.93 L378.97 144.66 L379.67 144.23 L380.37 143.78 L381.07 143.39 L381.77 141.91 L382.47 142.56 L383.17 142.24 L383.87 142.65 L384.57 142.38 L385.27 142.05 L385.97 141.71 L386.67 142.11 L387.37 141.03 L388.07 141.88 L388.76 141.22 L389.46 142.57 L390.16 141.66 L390.86 141.57 L391.56 141.63 L392.26 141.5 L392.96 141.67 L393.66 141.77 L394.36 142.64 L395.06 142.24 L395.76 142.95 L396.46 141.85 L397.16 142.06 L397.86 142.35 L398.55 142.69 L399.25 142.69 L399.95 141.83 L400.65 141.98 L401.35 142.79 L402.05 142.37 L402.75 143.61 L403.45 143.86 L404.15 143.39 L404.85 143.65 L405.55 143.63 L406.25 143.44 L406.95 142.42 L407.65 143.97 L408.34 143.78 L409.04 143.79 L409.74 144 L410.44 143.7 L411.14 143.44 L411.84 144.71 L412.54 144.23 L413.24 144.47 L413.94 144.29 L414.64 145.1 L415.34 145.25 L416.04 145.53 L416.74 144.47 L417.44 144.66 L418.14 144.76 L418.83 145.79 L419.53 145.05 L420.23 145.26 L420.93 145.58 L421.63 145.43 L422.33 144.84 L423.03 144.95 L423.73 145.22 L424.43 145.04 L425.13 145.51 L425.83 145.27 L426.53 145.3 L427.23 145.11 L427.93 145.35 L428.62 145.38 L429.32 145.36 L430.02 145.54 L430.72 144.38 L431.42 145.03 L432.12 145.04 L432.82 144.27 L433.52 144.59 L434.22 145.73 L434.92 144.81 L435.62 144.73 L436.32 144.29 L437.02 144.49 L437.72 144.69 L438.41 145.44 L439.11 145.3 L439.81 144.84 L440.51 144.73 L441.21 145.32 L441.91 145.05 L442.61 145.04 L443.31 144.85 L444.01 144.73 L444.71 144.96 L445.41 145.32 L446.11 144.33 L446.81 144.18 L447.51 144.84 L448.2 144.39 L448.9 144.6 L449.6 144.5 L450.3 144.56 L451 145.03 L451.7 144.49 L452.4 144.31 L453.1 145.05 L453.8 143.93 L454.5 143.89 L455.2 144.02 L455.9 143.99 L456.6 144.54 L457.3 145.03 L458 145.22 L458.69 145.39 L459.39 145.13 L460.09 145.31 L460.79 145.16 L461.49 146.36 L462.19 144.79 L462.89 144.95 L463.59 146.02 L464.29 145.9 L464.99 146.14 L465.69 146.38 L466.39 146.73 L467.09 146.86 L467.79 147.29 L468.48 147.04 L469.18 147.26 L469.88 147.26 L470.58 147.85 L471.28 147.62 L471.98 147.73 L472.68 147.61 L473.38 148.37 L474.08 147.87 L474.78 147.73 L475.48 147.95 L476.18 148.39 L476.88 148.49 L477.58 148.43 L478.27 148.09 L478.97 147.78 L479.67 148.48 L480.37 148.67 L481.07 148.27 L481.77 148.33 L482.47 148.75 L483.17 148.65 L483.87 148.36 L484.57 148.01 L485.27 148.69 L485.97 148.56 L486.67 147.89 L487.37 148.49 L488.07 147.88 L488.76 147.69 L489.46 147.77 L490.16 148.02 L490.86 147.53 L491.56 147.52 L492.26 147.13 L492.96 147.47 L493.66 146.57 L494.36 147.53 L495.06 146.8 L495.76 146.58 L496.46 146.06 L497.16 146.54 L497.86 145.94 L498.55 146.23 L499.25 145.57 L499.95 145.04 L500.65 145.75 L501.35 145.29 L502.05 145.71 L502.75 144.84 L503.45 144.62 L504.15 144.97 L504.85 145.32 L505.55 144.6 L506.25 144.19 L506.95 144.11 L507.65 144.11 L508.34 145.05 L509.04 144.5 L509.74 143.57 L510.44 144.53 L511.14 143.51 L511.84 143.12 L512.54 143.49 L513.24 143.27 L513.94 143.77 L514.64 144.06 L515.34 143.55 L516.04 143.53 L516.74 143.42 L517.44 143.07 L518.13 143.36 L518.83 143.19 L519.53 143.06 L520.23 143.2 L520.93 142.44 L521.63 142.96 L522.33 143.08 L523.03 143.18 L523.73 143.32 L524.43 142.53 L525.13 142.99 L525.83 143.46 L526.53 143.24 L527.23 143.07 L527.93 143.18 L528.62 142.56 L529.32 143.44 M339.87 193.53 L340.57 192.09 L341.27 191.03 L341.97 188.97 L342.67 187.45 L343.37 185.64 L344.07 184.45 L344.77 182.57 L345.47 181.78 L346.17 179.97 L346.87 177.65 L347.56 175.96 L348.26 174.79 L348.96 173.44 L349.66 171.2 L350.36 170.9 L351.06 168.88 L351.76 166.85 L352.46 165.54 L353.16 165.14 L353.86 164.71 L354.56 162.8 L355.26 162.81 L355.96 162.78 L356.66 161.99 L357.35 161.26 L358.05 162.25 L358.75 160.41 L359.45 160.19 L360.15 160.93 L360.85 159.44 L361.55 160.09 L362.25 158.57 L362.95 158.5 L363.65 157.41 L364.35 158.19 L365.05 157.59 L365.75 156.82 L366.45 157.13 L367.14 156.8 L367.84 156.32 L368.54 155.85 L369.24 155.9 L369.94 154.93 L370.64 154.55 L371.34 154.39 L372.04 153.4 L372.74 153.85 L373.44 152.85 L374.14 153.24 L374.84 152.37 L375.54 153.08 L376.24 151.89 L376.93 151.68 L377.63 151.45 L378.33 151.14 L379.03 150.68 L379.73 150.48 L380.43 150.7 L381.13 149.72 L381.83 149.35 L382.53 148.99 L383.23 148.85 L383.93 148.14 L384.63 147.44 L385.33 147.52 L386.03 147.29 L386.73 146.24 L387.42 146.09 L388.12 145.81 L388.82 145.44 L389.52 145.77 L390.22 145.46 L390.92 144.77 L391.62 145.26 L392.32 144.97 L393.02 144.72 L393.72 144.71 L394.42 144.97 L395.12 144.49 L395.82 144.97 L396.52 144.63 L397.21 144.52 L397.91 144.72 L398.61 144.72 L399.31 145.51 L400.01 145.61 L400.71 145.38 L401.41 144.99 L402.11 144.63 L402.81 145.76 L403.51 145.22 L404.21 145.74 L404.91 145.77 L405.61 145.66 L406.31 145.37 L407 145.65 L407.7 145.37 L408.4 146.34 L409.1 145.71 L409.8 145.82 L410.5 146.29 L411.2 146.26 L411.9 146.81 L412.6 147.15 L413.3 147.01 L414 147.24 L414.7 145.97 L415.4 147.42 L416.1 146.7 L416.8 147.38 L417.49 147.43 L418.19 147.36 L418.89 148.04 L419.59 147.45 L420.29 147.73 L420.99 148.54 L421.69 147.76 L422.39 147.82 L423.09 147.9 L423.79 147.48 L424.49 148.29 L425.19 147.95 L425.89 147.87 L426.59 148.53 L427.28 147.7 L427.98 148.75 L428.68 148.69 L429.38 147.96 L430.08 148.58 L430.78 148.18 L431.48 148.76 L432.18 148.06 L432.88 148.5 L433.58 147.89 L434.28 148.6 L434.98 147.78 L435.68 148.03 L436.38 147.87 L437.07 147.89 L437.77 147.79 L438.47 148.33 L439.17 148.79 L439.87 147.74 L440.57 148.1 L441.27 147.88 L441.97 147.51 L442.67 148.44 L443.37 147.93 L444.07 147.84 L444.77 147.99 L445.47 147.41 L446.17 147.57 L446.86 147.81 L447.56 147.85 L448.26 147.11 L448.96 147.67 L449.66 147.17 L450.36 147.22 L451.06 148.15 L451.76 147.84 L452.46 147.43 L453.16 147.32 L453.86 147.18 L454.56 147.2 L455.26 147.15 L455.96 147.74 L456.66 147.72 L457.35 147.38 L458.05 147.91 L458.75 147.39 L459.45 148.51 L460.15 147.7 L460.85 148.12 L461.55 148.92 L462.25 147.86 L462.95 148.24 L463.65 148.48 L464.35 149.04 L465.05 148.93 L465.75 148.3 L466.45 149.37 L467.14 150.57 L467.84 149.69 L468.54 149.99 L469.24 149.73 L469.94 149.99 L470.64 150.36 L471.34 150.5 L472.04 149.91 L472.74 151.05 L473.44 149.86 L474.14 151 L474.84 151.36 L475.54 150.75 L476.24 150.96 L476.93 151.72 L477.63 151.12 L478.33 152.24 L479.03 151.97 L479.73 151.24 L480.43 151.86 L481.13 152.33 L481.83 151.67 L482.53 151.55 L483.23 151.95 L483.93 152.67 L484.63 152.1 L485.33 151.8 L486.03 151.65 L486.73 151.2 L487.42 152 L488.12 152.05 L488.82 151.82 L489.52 151.27 L490.22 152.05 L490.92 151.09 L491.62 152.61 L492.32 151.12 L493.02 151.61 L493.72 151.06 L494.42 150.87 L495.12 151.5 L495.82 150.95 L496.52 150.71 L497.21 150.45 L497.91 150.93 L498.61 150.84 L499.31 151.08 L500.01 149.2 L500.71 150.15 L501.41 150.04 L502.11 150.42 L502.81 149.34 L503.51 149.8 L504.21 148.9 L504.91 149.01 L505.61 149.22 L506.31 148.82 L507 149.44 L507.7 149.01 L508.4 149 L509.1 149.16 L509.8 148.55 L510.5 148.51 L511.2 147.78 L511.9 149.57 L512.6 148.41 L513.3 148.42 L514 148.14 L514.7 147.71 L515.4 147.63 L516.1 147.69 L516.79 147.82 L517.49 147.36 L518.19 147.35 L518.89 148.15 L519.59 147.47 L520.29 147.86 L520.99 147.74 L521.69 147.18 L522.39 147.18 L523.09 147.13 L523.79 147.5 L524.49 147.22 L525.19 147.49 L525.89 146.97 L526.59 146.85 L527.28 146.43 L527.98 146.63 L528.68 147.46 L529.38 147.34 L530.08 147.54 L530.78 147.07 L531.48 146.43 L532.18 146.95 L532.88 148.12 L533.58 147.77 M344.13 193.34 L344.83 191.04 L345.52 189.67 L346.22 187.97 L346.92 185.79 L347.62 185.24 L348.32 183.65 L349.02 180.94 L349.72 179.99 L350.42 178.84 L351.12 177.75 L351.82 176 L352.52 174.86 L353.22 172.44 L353.92 171.18 L354.62 169.86 L355.32 169.6 L356.01 169.25 L356.71 168.78 L357.41 167.29 L358.11 168.33 L358.81 167.17 L359.51 166.84 L360.21 166.23 L360.91 166.27 L361.61 165.54 L362.31 165.05 L363.01 165.07 L363.71 164.83 L364.41 164.36 L365.11 164.31 L365.8 163.65 L366.5 163.33 L367.2 162.77 L367.9 161.97 L368.6 161.63 L369.3 161.97 L370 161.2 L370.7 160.97 L371.4 160.43 L372.1 160.37 L372.8 159.92 L373.5 159.86 L374.2 159.64 L374.9 158.63 L375.59 158.11 L376.29 158.01 L376.99 157.75 L377.69 157.46 L378.39 157.39 L379.09 157.56 L379.79 156.24 L380.49 156.06 L381.19 156 L381.89 155.8 L382.59 154.56 L383.29 155.41 L383.99 153.65 L384.69 153.73 L385.39 152.69 L386.08 153.56 L386.78 152.93 L387.48 152.77 L388.18 152.16 L388.88 151.96 L389.58 151.83 L390.28 150.77 L390.98 151.18 L391.68 150.74 L392.38 150 L393.08 150.13 L393.78 149.79 L394.48 149.2 L395.18 149.23 L395.87 149.34 L396.57 148.68 L397.27 148.56 L397.97 147.68 L398.67 148.72 L399.37 147.9 L400.07 148.6 L400.77 148.44 L401.47 148.45 L402.17 148.24 L402.87 148.02 L403.57 147.69 L404.27 148.66 L404.97 147.9 L405.66 148.05 L406.36 148.14 L407.06 148.77 L407.76 148.14 L408.46 148.57 L409.16 148.43 L409.86 148.73 L410.56 148.46 L411.26 148.39 L411.96 148.51 L412.66 149.18 L413.36 148.85 L414.06 148.82 L414.76 149.92 L415.45 149.12 L416.15 150.38 L416.85 149.79 L417.55 149.92 L418.25 149.71 L418.95 150.32 L419.65 150.74 L420.35 150.99 L421.05 151.28 L421.75 150.58 L422.45 151.07 L423.15 151.34 L423.85 150.91 L424.55 151.47 L425.25 151.37 L425.94 151.41 L426.64 150.58 L427.34 150.66 L428.04 151.29 L428.74 151.83 L429.44 151.08 L430.14 151.13 L430.84 151 L431.54 150.89 L432.24 151.21 L432.94 150.69 L433.64 150.7 L434.34 150.92 L435.04 151.13 L435.73 151.13 L436.43 150.63 L437.13 151.31 L437.83 150.91 L438.53 151.11 L439.23 151.33 L439.93 150.52 L440.63 150.74 L441.33 150.69 L442.03 150.34 L442.73 151.25 L443.43 150.67 L444.13 150.51 L444.83 150.28 L445.52 151.02 L446.22 150.29 L446.92 150.47 L447.62 150.01 L448.32 150.08 L449.02 150.3 L449.72 149.66 L450.42 150.5 L451.12 150.67 L451.82 150.64 L452.52 150.88 L453.22 150.53 L453.92 151.27 L454.62 150.59 L455.32 150.41 L456.01 150.22 L456.71 150.79 L457.41 150.16 L458.11 151.02 L458.81 150.87 L459.51 151.63 L460.21 151.26 L460.91 151.35 L461.61 150.55 L462.31 151.01 L463.01 151.73 L463.71 151.2 L464.41 151.33 L465.11 151.72 L465.8 151.73 L466.5 151.98 L467.2 152.2 L467.9 152.81 L468.6 152.3 L469.3 151.91 L470 152 L470.7 152.81 L471.4 153.14 L472.1 153.09 L472.8 152.82 L473.5 153.19 L474.2 153.72 L474.9 153.51 L475.59 153.89 L476.29 153.77 L476.99 154.29 L477.69 154.85 L478.39 154.41 L479.09 154.28 L479.79 155.14 L480.49 154.88 L481.19 154.63 L481.89 155.22 L482.59 155.44 L483.29 154.5 L483.99 155.05 L484.69 155.05 L485.38 155.87 L486.08 154.93 L486.78 156.24 L487.48 155.84 L488.18 155.37 L488.88 155.15 L489.58 156.02 L490.28 155.9 L490.98 155.55 L491.68 156.33 L492.38 155.3 L493.08 155.28 L493.78 155.61 L494.48 155.16 L495.18 154.99 L495.87 155.08 L496.57 154.91 L497.27 154.43 L497.97 155.1 L498.67 154.75 L499.37 154.91 L500.07 154.21 L500.77 154.66 L501.47 154.22 L502.17 154.25 L502.87 154.17 L503.57 153.44 L504.27 154.02 L504.97 153.34 L505.66 153.46 L506.36 153.16 L507.06 153.62 L507.76 153.1 L508.46 153.06 L509.16 153.47 L509.86 153.02 L510.56 153.07 L511.26 152.92 L511.96 152.3 L512.66 152.97 L513.36 153.23 L514.06 153.14 L514.76 152.55 L515.45 152.52 L516.15 152.17 L516.85 151.86 L517.55 151.31 L518.25 151.77 L518.95 151.62 L519.65 151.98 L520.35 151.4 L521.05 151.02 L521.75 150.95 L522.45 152.14 L523.15 150.99 L523.85 150.67 L524.55 150.9 L525.25 151.74 L525.94 151.25 L526.64 150.88 L527.34 150.92 L528.04 151.37 L528.74 151.39 L529.44 150.69 L530.14 151.57 L530.84 150.54 L531.54 151.1 L532.24 151.03 L532.94 151.69 L533.64 151.45 L534.34 151.01 L535.04 151.88 L535.73 150.59 L536.43 151.97 L537.13 151.96 L537.83 151.54 M348.38 192.66 L349.08 190.97 L349.78 189.8 L350.48 188.14 L351.18 186.55 L351.88 185.08 L352.58 184.23 L353.28 181.29 L353.98 179.98 L354.67 178.48 L355.37 177.36 L356.07 175.86 L356.77 175.19 L357.47 174.63 L358.17 173.69 L358.87 174.32 L359.57 173.16 L360.27 173.27 L360.97 172.6 L361.67 171.54 L362.37 172.15 L363.07 171.41 L363.77 171.23 L364.46 170.28 L365.16 170.65 L365.86 170.56 L366.56 169.36 L367.26 169.33 L367.96 168.96 L368.66 168.08 L369.36 168.47 L370.06 167.92 L370.76 167.36 L371.46 166.91 L372.16 166.91 L372.86 165.97 L373.56 165.16 L374.25 165.82 L374.95 164.6 L375.65 165.76 L376.35 164.08 L377.05 164.39 L377.75 163.85 L378.45 163.68 L379.15 163.44 L379.85 163.33 L380.55 162.63 L381.25 161.63 L381.95 161.33 L382.65 161.53 L383.35 161.24 L384.05 160.94 L384.74 160.76 L385.44 159.26 L386.14 159.33 L386.84 159.18 L387.54 159.05 L388.24 158.89 L388.94 157.64 L389.64 157.49 L390.34 157.79 L391.04 156.7 L391.74 157.14 L392.44 156.13 L393.14 156.39 L393.84 155.83 L394.53 155.15 L395.23 154.83 L395.93 154.28 L396.63 154.65 L397.33 153.42 L398.03 153.19 L398.73 153.41 L399.43 152.94 L400.13 153.15 L400.83 152.67 L401.53 152.9 L402.23 152.18 L402.93 152.01 L403.63 151.49 L404.32 151.62 L405.02 151.69 L405.72 152.16 L406.42 152.14 L407.12 152.22 L407.82 152.04 L408.52 152.9 L409.22 151.91 L409.92 152.84 L410.62 152.48 L411.32 152.32 L412.02 152.57 L412.72 151.8 L413.42 152.53 L414.11 151.97 L414.81 152.2 L415.51 152.93 L416.21 152.69 L416.91 152.46 L417.61 153.2 L418.31 153.16 L419.01 153.52 L419.71 153.42 L420.41 153.7 L421.11 153.65 L421.81 153.42 L422.51 153.39 L423.21 153.97 L423.91 154.05 L424.6 153.89 L425.3 154.41 L426 154.78 L426.7 154.02 L427.4 154.85 L428.1 154.19 L428.8 154.93 L429.5 153.89 L430.2 154.98 L430.9 154.24 L431.6 153.96 L432.3 154.85 L433 153.87 L433.7 154.69 L434.39 154.98 L435.09 153.98 L435.79 153.93 L436.49 154.22 L437.19 155.04 L437.89 154.06 L438.59 154.1 L439.29 154.09 L439.99 154.02 L440.69 154.55 L441.39 154.06 L442.09 153.13 L442.79 153.21 L443.49 153.91 L444.18 154.03 L444.88 153.6 L445.58 153.35 L446.28 153.47 L446.98 154.19 L447.68 153.69 L448.38 153.71 L449.08 153.23 L449.78 153.33 L450.48 153.6 L451.18 153.35 L451.88 153.98 L452.58 153.26 L453.28 154.03 L453.98 153.74 L454.67 153.57 L455.37 154.29 L456.07 154.25 L456.77 154.69 L457.47 154 L458.17 154.13 L458.87 154.29 L459.57 154.03 L460.27 155.08 L460.97 154.36 L461.67 154.39 L462.37 154.6 L463.07 154.28 L463.77 154 L464.46 154.93 L465.16 155.21 L465.86 155.19 L466.56 155.03 L467.26 154.96 L467.96 155.62 L468.66 155.03 L469.36 155.92 L470.06 155.35 L470.76 155.63 L471.46 155.75 L472.16 155.24 L472.86 156.3 L473.56 156.41 L474.25 156.31 L474.95 156.31 L475.65 157.29 L476.35 156.83 L477.05 157.37 L477.75 157 L478.45 156.87 L479.15 157.53 L479.85 157.74 L480.55 157.78 L481.25 159.12 L481.95 157.86 L482.65 158.09 L483.35 158.38 L484.04 158.73 L484.74 158.99 L485.44 158.91 L486.14 158.5 L486.84 159.11 L487.54 158.66 L488.24 160.23 L488.94 159.51 L489.64 159.3 L490.34 159.47 L491.04 160.14 L491.74 159.79 L492.44 159.09 L493.14 160.06 L493.84 159.94 L494.53 159.97 L495.23 159.73 L495.93 159.24 L496.63 159.22 L497.33 160.16 L498.03 158.77 L498.73 159.47 L499.43 159.4 L500.13 158.46 L500.83 159.04 L501.53 159.39 L502.23 159.07 L502.93 159.01 L503.63 159.03 L504.32 158.67 L505.02 158.12 L505.72 158.22 L506.42 158.78 L507.12 157.1 L507.82 158.44 L508.52 157.92 L509.22 157.85 L509.92 157.48 L510.62 157.79 L511.32 157.39 L512.02 156.67 L512.72 157.33 L513.42 157.67 L514.11 157.03 L514.81 157.36 L515.51 157.09 L516.21 156.78 L516.91 156.62 L517.61 156.75 L518.31 156.22 L519.01 156.51 L519.71 156.83 L520.41 155.9 L521.11 156.27 L521.81 155.58 L522.51 156.19 L523.21 155.63 L523.91 155.63 L524.6 156.68 L525.3 156.14 L526 155.92 L526.7 154.88 L527.4 156.05 L528.1 154.92 L528.8 154.79 L529.5 154.96 L530.2 154.84 L530.9 155.24 L531.6 155.02 L532.3 154.91 L533 154.82 L533.7 154.71 L534.39 155.06 L535.09 155.27 L535.79 155.25 L536.49 154.93 L537.19 155.77 L537.89 155.69 L538.59 155.45 L539.29 155.6 L539.99 155.6 L540.69 156.61 L541.39 155.84 L542.09 155.93 M352.64 194.53 L353.33 194.02 L354.03 191.82 L354.73 189.96 L355.43 188.39 L356.13 186.55 L356.83 185.05 L357.53 184.33 L358.23 182.22 L358.93 181.32 L359.63 180.57 L360.33 179.01 L361.03 179.3 L361.73 178.92 L362.43 178.33 L363.12 178.1 L363.82 177.01 L364.52 176.87 L365.22 176.11 L365.92 176.12 L366.62 176.15 L367.32 175.15 L368.02 175.44 L368.72 175.01 L369.42 174.54 L370.12 174.1 L370.82 173.31 L371.52 173.64 L372.22 172.92 L372.91 172.71 L373.61 172.82 L374.31 172.41 L375.01 171.73 L375.71 171.14 L376.41 170.82 L377.11 170.41 L377.81 170.23 L378.51 170.07 L379.21 169.38 L379.91 169.57 L380.61 169.35 L381.31 168.6 L382.01 168.66 L382.7 167.95 L383.4 167.67 L384.1 167.24 L384.8 166.68 L385.5 166.6 L386.2 166.09 L386.9 166.22 L387.6 165.15 L388.3 165.17 L389 164.32 L389.7 165.19 L390.4 164.06 L391.1 163.3 L391.8 163.96 L392.5 162.81 L393.19 162.27 L393.89 161.91 L394.59 162.17 L395.29 161.15 L395.99 160.83 L396.69 160.91 L397.39 159.9 L398.09 159.86 L398.79 159.49 L399.49 159.32 L400.19 158.61 L400.89 158.45 L401.59 157.73 L402.29 157.67 L402.98 157.78 L403.68 157.33 L404.38 156.63 L405.08 156.86 L405.78 156.35 L406.48 156.11 L407.18 156.23 L407.88 156.95 L408.58 155.98 L409.28 155.98 L409.98 156.04 L410.68 156.42 L411.38 155.71 L412.08 156.27 L412.77 156.51 L413.47 156.6 L414.17 156.24 L414.87 156.86 L415.57 156.9 L416.27 155.82 L416.97 156.17 L417.67 156.35 L418.37 156.32 L419.07 156.7 L419.77 157.67 L420.47 156.66 L421.17 156.74 L421.87 157.13 L422.57 158.16 L423.26 157.03 L423.96 157.07 L424.66 157.86 L425.36 157.7 L426.06 157.52 L426.76 157.9 L427.46 157.5 L428.16 157.92 L428.86 157.72 L429.56 157.97 L430.26 158.57 L430.96 158.39 L431.66 156.79 L432.36 157.88 L433.05 157.46 L433.75 157.49 L434.45 157.23 L435.15 157.63 L435.85 158.02 L436.55 157.73 L437.25 158.41 L437.95 157.68 L438.65 157.2 L439.35 158.31 L440.05 157.34 L440.75 157.03 L441.45 156.78 L442.15 157.59 L442.84 157.43 L443.54 157.85 L444.24 157.49 L444.94 156.86 L445.64 156.25 L446.34 157.47 L447.04 156.5 L447.74 156.87 L448.44 157.24 L449.14 156.22 L449.84 158.06 L450.54 157.15 L451.24 157.07 L451.94 156.38 L452.63 156.55 L453.33 156.41 L454.03 157.28 L454.73 157 L455.43 156.91 L456.13 157.29 L456.83 157.41 L457.53 157.67 L458.23 157.82 L458.93 158.2 L459.63 157.05 L460.33 158.04 L461.03 158.73 L461.73 157.91 L462.43 158.1 L463.12 158.1 L463.82 157.56 L464.52 158.38 L465.22 158.53 L465.92 158.81 L466.62 158.63 L467.32 158.89 L468.02 158.75 L468.72 157.73 L469.42 158.89 L470.12 159.49 L470.82 158.53 L471.52 159.06 L472.22 159.2 L472.91 159.36 L473.61 159.45 L474.31 159.63 L475.01 159.48 L475.71 159.76 L476.41 159.76 L477.11 160.61 L477.81 160.55 L478.51 160.97 L479.21 160.45 L479.91 160.64 L480.61 161.28 L481.31 161.01 L482.01 160.37 L482.7 161.04 L483.4 162.08 L484.1 161.83 L484.8 161.69 L485.5 162.09 L486.2 162.06 L486.9 161.9 L487.6 162.36 L488.3 163.05 L489 162.48 L489.7 162.92 L490.4 162.96 L491.1 163.34 L491.8 163.77 L492.5 163.82 L493.19 163.57 L493.89 163.92 L494.59 164.62 L495.29 163.19 L495.99 164.11 L496.69 163.96 L497.39 163.49 L498.09 164.61 L498.79 163.15 L499.49 163.93 L500.19 163.34 L500.89 163.72 L501.59 163.36 L502.29 163.37 L502.98 163.34 L503.68 163.97 L504.38 163.75 L505.08 163.12 L505.78 162.47 L506.48 163.14 L507.18 162.63 L507.88 162.68 L508.58 162.47 L509.28 162.18 L509.98 163.04 L510.68 162.27 L511.38 162.35 L512.08 162.3 L512.77 162.42 L513.47 162.29 L514.17 162.29 L514.87 162.22 L515.57 160.74 L516.27 160.96 L516.97 161.51 L517.67 161.13 L518.37 161.7 L519.07 162.29 L519.77 161.83 L520.47 160.97 L521.17 160.38 L521.87 160.85 L522.56 161.12 L523.26 160.73 L523.96 160.92 L524.66 160.98 L525.36 160.43 L526.06 160.4 L526.76 160.46 L527.46 160.39 L528.16 160.32 L528.86 159.78 L529.56 159.24 L530.26 159.77 L530.96 158.74 L531.66 160.14 L532.36 159.33 L533.05 159.81 L533.75 159.35 L534.45 159.19 L535.15 158.95 L535.85 158.67 L536.55 159.27 L537.25 159.5 L537.95 159.06 L538.65 158.85 L539.35 159.23 L540.05 158.63 L540.75 158.35 L541.45 159.59 L542.15 158.97 L542.84 158.81 L543.54 160.06 L544.24 159.39 L544.94 159.72 L545.64 160.38 L546.34 159.52 M356.89 198.83 L357.59 197.55 L358.29 195.66 L358.99 194.04 L359.69 192.45 L360.39 190.99 L361.09 189.53 L361.78 188.63 L362.48 186.87 L363.18 185.37 L363.88 185.53 L364.58 182.96 L365.28 183.39 L365.98 183.19 L366.68 183.07 L367.38 181.87 L368.08 181.58 L368.78 181.44 L369.48 181.01 L370.18 180.82 L370.88 180.41 L371.57 179.8 L372.27 179.65 L372.97 178.78 L373.67 178.74 L374.37 178.28 L375.07 177.82 L375.77 177.14 L376.47 177.05 L377.17 176.84 L377.87 176.64 L378.57 176.54 L379.27 176.01 L379.97 175.27 L380.67 175.09 L381.36 174.97 L382.06 174.98 L382.76 174.7 L383.46 173.62 L384.16 172.99 L384.86 172.88 L385.56 173.18 L386.26 172.37 L386.96 171.84 L387.66 171.91 L388.36 171.06 L389.06 170.91 L389.76 170.79 L390.46 170.58 L391.16 169.43 L391.85 169.24 L392.55 169.36 L393.25 169.04 L393.95 167.95 L394.65 167.7 L395.35 167.69 L396.05 166.6 L396.75 166.96 L397.45 166.9 L398.15 165.72 L398.85 165.85 L399.55 165.29 L400.25 165.06 L400.95 165.11 L401.64 164.83 L402.34 164.1 L403.04 163.14 L403.74 163.72 L404.44 162.48 L405.14 162.59 L405.84 162.78 L406.54 161.94 L407.24 161.52 L407.94 161.81 L408.64 162.02 L409.34 160.83 L410.04 161.19 L410.74 160.43 L411.43 161.21 L412.13 160.46 L412.83 160.71 L413.53 161 L414.23 160.56 L414.93 160.45 L415.63 160.78 L416.33 161.07 L417.03 160.6 L417.73 161.41 L418.43 160.61 L419.13 160.7 L419.83 160.32 L420.53 160.71 L421.23 161 L421.92 161.13 L422.62 161.31 L423.32 161.93 L424.02 160.95 L424.72 161.41 L425.42 161.81 L426.12 162.23 L426.82 161.31 L427.52 161.75 L428.22 162.47 L428.92 161.81 L429.62 161.37 L430.32 162.12 L431.02 161.94 L431.71 162.22 L432.41 162.25 L433.11 161.54 L433.81 160.7 L434.51 161.77 L435.21 161.79 L435.91 161.36 L436.61 161.7 L437.31 161.23 L438.01 161.12 L438.71 161.75 L439.41 161.71 L440.11 161.26 L440.81 160.85 L441.5 161 L442.2 160.57 L442.9 161.52 L443.6 160.75 L444.3 161.12 L445 160.8 L445.7 160.67 L446.4 161.12 L447.1 160.79 L447.8 161.11 L448.5 160.54 L449.2 160.94 L449.9 160.8 L450.6 160.54 L451.29 160.9 L451.99 160.25 L452.69 160.98 L453.39 160.47 L454.09 160.75 L454.79 161.32 L455.49 161.08 L456.19 161.39 L456.89 161.28 L457.59 161.33 L458.29 160.61 L458.99 161.55 L459.69 160.87 L460.39 161.39 L461.09 162.15 L461.78 162.63 L462.48 161.58 L463.18 162.69 L463.88 161.75 L464.58 161.73 L465.28 162.08 L465.98 162.41 L466.68 162.53 L467.38 162.43 L468.08 162.76 L468.78 162.95 L469.48 163 L470.18 162.52 L470.88 163.32 L471.57 163.05 L472.27 163.75 L472.97 163.7 L473.67 164.07 L474.37 163.74 L475.07 163.53 L475.77 163.8 L476.47 164.22 L477.17 163.93 L477.87 164.42 L478.57 164.27 L479.27 164.43 L479.97 164.45 L480.67 165.73 L481.36 165.41 L482.06 164.74 L482.76 165.2 L483.46 164.42 L484.16 165.49 L484.86 165.73 L485.56 165.07 L486.26 165.54 L486.96 165.15 L487.66 165.8 L488.36 166.19 L489.06 165.95 L489.76 166.64 L490.46 166.62 L491.16 166.78 L491.85 166.77 L492.55 166.5 L493.25 167.1 L493.95 166.92 L494.65 167.35 L495.35 166.94 L496.05 168.45 L496.75 167.6 L497.45 167.57 L498.15 168.15 L498.85 167.44 L499.55 167.82 L500.25 167.46 L500.95 167.6 L501.64 167.72 L502.34 168.01 L503.04 168.33 L503.74 167.96 L504.44 168 L505.14 167.67 L505.84 167.87 L506.54 166.46 L507.24 168.16 L507.94 167.03 L508.64 167.57 L509.34 167.4 L510.04 166.87 L510.74 167.14 L511.43 167.51 L512.13 166.8 L512.83 166.94 L513.53 167.56 L514.23 166.61 L514.93 167 L515.63 166.79 L516.33 166.23 L517.03 166.21 L517.73 166.34 L518.43 165.31 L519.13 165.89 L519.83 166.19 L520.53 165.78 L521.22 165.82 L521.92 166.53 L522.62 166.2 L523.32 166.04 L524.02 164.63 L524.72 165.4 L525.42 165.35 L526.12 165.37 L526.82 164.69 L527.52 164.96 L528.22 164.23 L528.92 164.49 L529.62 164.07 L530.32 164.65 L531.02 164.38 L531.71 164.59 L532.41 164.4 L533.11 164.91 L533.81 164.38 L534.51 164.43 L535.21 164.23 L535.91 163.44 L536.61 163.72 L537.31 163.27 L538.01 163.34 L538.71 163.24 L539.41 163.14 L540.11 163.68 L540.81 163.09 L541.5 163.46 L542.2 163.49 L542.9 162.78 L543.6 162.37 L544.3 163.54 L545 162.48 L545.7 162.8 L546.4 163.44 L547.1 163.03 L547.8 163.04 L548.5 163.13 L549.2 163.56 L549.9 164.13 L550.6 163.93 M361.14 202.39 L361.84 200.89 L362.54 199.41 L363.24 197.73 L363.94 197.01 L364.64 195.15 L365.34 193.51 L366.04 191.8 L366.74 190.7 L367.44 189.35 L368.14 188.6 L368.84 187.2 L369.54 188.3 L370.23 187.02 L370.93 185.66 L371.63 186.11 L372.33 186.52 L373.03 185.39 L373.73 185.62 L374.43 184.97 L375.13 184.26 L375.83 183.34 L376.53 183.46 L377.23 183.02 L377.93 182.54 L378.63 182.5 L379.33 182.55 L380.02 181.91 L380.72 181.39 L381.42 181.27 L382.12 181.06 L382.82 180.59 L383.52 180.67 L384.22 180.13 L384.92 179.41 L385.62 179.16 L386.32 178.64 L387.02 177.76 L387.72 177.82 L388.42 177.58 L389.12 177.65 L389.82 177.25 L390.51 176.33 L391.21 176.44 L391.91 175.58 L392.61 175.79 L393.31 174.97 L394.01 174.68 L394.71 173.91 L395.41 174.08 L396.11 173.71 L396.81 173.11 L397.51 172.83 L398.21 171.84 L398.91 172.23 L399.61 171.97 L400.3 171.53 L401 170.87 L401.7 170.61 L402.4 170.08 L403.1 170.51 L403.8 168.69 L404.5 168.58 L405.2 168.95 L405.9 169.05 L406.6 168.19 L407.3 167.75 L408 168.42 L408.7 167.24 L409.4 167.48 L410.09 166.44 L410.79 165.79 L411.49 165.65 L412.19 166.36 L412.89 165.04 L413.59 165.03 L414.29 165.37 L414.99 164.95 L415.69 164.54 L416.39 165.27 L417.09 165.19 L417.79 165.44 L418.49 164.82 L419.19 166.12 L419.88 164.81 L420.58 165.76 L421.28 165.09 L421.98 166.11 L422.68 165.91 L423.38 165.84 L424.08 165.37 L424.78 166.38 L425.48 165.61 L426.18 166.16 L426.88 165.54 L427.58 166.21 L428.28 166 L428.98 166.33 L429.68 165.65 L430.37 166.52 L431.07 166.44 L431.77 165.7 L432.47 166.43 L433.17 166.19 L433.87 166.71 L434.57 166.31 L435.27 167.19 L435.97 166.22 L436.67 166.41 L437.37 166.64 L438.07 166.5 L438.77 165.41 L439.47 165.56 L440.16 166.17 L440.86 164.78 L441.56 165.62 L442.26 165.38 L442.96 165.04 L443.66 165.46 L444.36 165.56 L445.06 165.16 L445.76 164.38 L446.46 164.43 L447.16 165.36 L447.86 164.3 L448.56 164.74 L449.26 164.57 L449.95 164.75 L450.65 164.62 L451.35 165.16 L452.05 165.13 L452.75 165.06 L453.45 164.95 L454.15 164.6 L454.85 165.33 L455.55 164.31 L456.25 165.2 L456.95 165.25 L457.65 164.82 L458.35 165 L459.05 165.37 L459.75 165.74 L460.44 165.8 L461.14 166.12 L461.84 165.18 L462.54 165.31 L463.24 165.12 L463.94 165.74 L464.64 165.92 L465.34 165.87 L466.04 165.91 L466.74 166.49 L467.44 166.37 L468.14 165.81 L468.84 167.39 L469.54 167.4 L470.23 167.35 L470.93 166.82 L471.63 166.78 L472.33 167.48 L473.03 167.22 L473.73 167.62 L474.43 167.61 L475.13 168.05 L475.83 167.98 L476.53 168.1 L477.23 167.79 L477.93 167.49 L478.63 169.16 L479.33 168.39 L480.02 168.71 L480.72 168.47 L481.42 168.55 L482.12 168.78 L482.82 168.89 L483.52 169.68 L484.22 170.08 L484.92 168.92 L485.62 169.21 L486.32 170.14 L487.02 169.4 L487.72 169.74 L488.42 171.04 L489.12 169.87 L489.81 170.68 L490.51 169.96 L491.21 170.76 L491.91 170.88 L492.61 171.27 L493.31 170.85 L494.01 170.47 L494.71 171.19 L495.41 171.73 L496.11 170.28 L496.81 170.48 L497.51 170.99 L498.21 171.54 L498.91 171.87 L499.61 172.12 L500.3 171.37 L501 171.18 L501.7 172.17 L502.4 171.85 L503.1 172.04 L503.8 172.09 L504.5 171.86 L505.2 171.29 L505.9 172.35 L506.6 171.79 L507.3 171.7 L508 172.2 L508.7 172.12 L509.4 172.53 L510.09 171.56 L510.79 172.11 L511.49 172.09 L512.19 171.75 L512.89 172.02 L513.59 172.01 L514.29 171.65 L514.99 170.88 L515.69 171.44 L516.39 171.07 L517.09 171.74 L517.79 171.83 L518.49 170.31 L519.19 171.06 L519.88 171.4 L520.58 170.77 L521.28 170.41 L521.98 171.21 L522.68 170.8 L523.38 170.28 L524.08 170.64 L524.78 169.9 L525.48 169.76 L526.18 169.87 L526.88 170.12 L527.58 169.9 L528.28 170.04 L528.98 169.77 L529.68 169.53 L530.37 169.69 L531.07 169.13 L531.77 168.43 L532.47 169.55 L533.17 169.14 L533.87 168.88 L534.57 168.87 L535.27 169.13 L535.97 169.15 L536.67 168.5 L537.37 168.57 L538.07 168.53 L538.77 168.95 L539.47 168.32 L540.16 168.18 L540.86 168.47 L541.56 168.08 L542.26 167.42 L542.96 168.89 L543.66 167.87 L544.36 168.48 L545.06 168.5 L545.76 168.02 L546.46 167.68 L547.16 167.84 L547.86 168.29 L548.56 168.39 L549.26 168.06 L549.95 167.87 L550.65 168.24 L551.35 168.56 L552.05 167.41 L552.75 168.52 L553.45 168.39 L554.15 168.7 L554.85 168.88 M365.4 206.11 L366.1 204.83 L366.8 203.06 L367.5 202.31 L368.2 200.97 L368.89 198.22 L369.59 197.58 L370.29 195.92 L370.99 194.53 L371.69 193.72 L372.39 193.13 L373.09 193.12 L373.79 192.6 L374.49 191.13 L375.19 190.79 L375.89 190.41 L376.59 190.84 L377.29 190.63 L377.99 189.83 L378.68 189.49 L379.38 188.6 L380.08 188.69 L380.78 187.32 L381.48 187.8 L382.18 187.42 L382.88 186.51 L383.58 186.36 L384.28 186.47 L384.98 185.45 L385.68 184.67 L386.38 185.52 L387.08 184.78 L387.78 184.74 L388.48 184.71 L389.17 183.36 L389.87 182.98 L390.57 182.51 L391.27 182.35 L391.97 182.93 L392.67 181.8 L393.37 181.68 L394.07 181.52 L394.77 181.12 L395.47 180.04 L396.17 180.09 L396.87 178.86 L397.57 179.07 L398.27 179.62 L398.96 178.18 L399.66 177.68 L400.36 177.78 L401.06 177.9 L401.76 176.4 L402.46 177.22 L403.16 176.39 L403.86 176.73 L404.56 176.13 L405.26 175.95 L405.96 174.52 L406.66 174.14 L407.36 174.4 L408.06 174.42 L408.75 173.59 L409.45 173.08 L410.15 173.49 L410.85 173.03 L411.55 172.31 L412.25 171.71 L412.95 171.66 L413.65 171.26 L414.35 171.67 L415.05 171.93 L415.75 170.68 L416.45 171.01 L417.15 170.63 L417.85 170.71 L418.54 170.39 L419.24 170.88 L419.94 170.04 L420.64 170.59 L421.34 170.41 L422.04 170.38 L422.74 170.23 L423.44 170.48 L424.14 171.32 L424.84 170.9 L425.54 169.95 L426.24 170.5 L426.94 170.48 L427.64 170.54 L428.34 170.99 L429.03 171.04 L429.73 171.07 L430.43 170.44 L431.13 170.81 L431.83 170.33 L432.53 170.9 L433.23 170.42 L433.93 171.03 L434.63 171.7 L435.33 170.59 L436.03 171.14 L436.73 170.79 L437.43 171.14 L438.13 171.29 L438.82 171.03 L439.52 171.45 L440.22 171.37 L440.92 171.14 L441.62 170.87 L442.32 171.05 L443.02 170.41 L443.72 170.09 L444.42 169.26 L445.12 169.17 L445.82 169.74 L446.52 169.22 L447.22 169.49 L447.92 169.12 L448.61 169.16 L449.31 169.26 L450.01 168.95 L450.71 169.52 L451.41 168.78 L452.11 169.09 L452.81 169.44 L453.51 169.21 L454.21 168.91 L454.91 169.45 L455.61 169.06 L456.31 169.09 L457.01 168.77 L457.71 169.86 L458.41 169.54 L459.1 169.37 L459.8 169.06 L460.5 169.61 L461.2 169.5 L461.9 170.44 L462.6 170.19 L463.3 169.4 L464 170.26 L464.7 169.4 L465.4 170.63 L466.1 170.56 L466.8 171.19 L467.5 170.43 L468.2 170.7 L468.89 170.14 L469.59 170.98 L470.29 171.27 L470.99 171.85 L471.69 171.46 L472.39 171.2 L473.09 171.41 L473.79 171.35 L474.49 171.63 L475.19 172.12 L475.89 172 L476.59 172.3 L477.29 173.02 L477.99 171.97 L478.68 172.62 L479.38 173.31 L480.08 172.88 L480.78 173.04 L481.48 172.89 L482.18 172.84 L482.88 174.72 L483.58 173.43 L484.28 173.17 L484.98 174.26 L485.68 174.73 L486.38 174.01 L487.08 174.1 L487.78 174.21 L488.47 174.89 L489.17 174.74 L489.87 174.59 L490.57 174.48 L491.27 174.01 L491.97 174.85 L492.67 175.3 L493.37 176.08 L494.07 174.82 L494.77 175.37 L495.47 175.44 L496.17 175.86 L496.87 175.25 L497.57 176.31 L498.27 175.62 L498.96 175.68 L499.66 175.67 L500.36 175.33 L501.06 175.94 L501.76 175.93 L502.46 175.69 L503.16 176.69 L503.86 176.26 L504.56 176.17 L505.26 175.88 L505.96 176.62 L506.66 176.04 L507.36 176.24 L508.06 177.01 L508.75 177.03 L509.45 177.03 L510.15 176.43 L510.85 176.4 L511.55 176.19 L512.25 176.13 L512.95 176.65 L513.65 175.97 L514.35 176.03 L515.05 176.11 L515.75 176.05 L516.45 176.67 L517.15 175.95 L517.85 176.42 L518.54 176.41 L519.24 175.99 L519.94 175.71 L520.64 175.7 L521.34 175.71 L522.04 175.88 L522.74 175.32 L523.44 175.6 L524.14 175.77 L524.84 175.09 L525.54 174.46 L526.24 175.1 L526.94 175.28 L527.64 174.23 L528.34 174.02 L529.03 174.73 L529.73 174.62 L530.43 174.38 L531.13 173.23 L531.83 174.27 L532.53 173.86 L533.23 174.01 L533.93 174.84 L534.63 174.5 L535.33 174.49 L536.03 173.78 L536.73 173.85 L537.43 173.14 L538.13 173.9 L538.82 173.62 L539.52 173.66 L540.22 173.58 L540.92 172.67 L541.62 173.42 L542.32 172.89 L543.02 172.9 L543.72 173.59 L544.42 173.01 L545.12 173.36 L545.82 173.1 L546.52 173 L547.22 172.98 L547.92 173.1 L548.61 172.23 L549.31 172.88 L550.01 172.45 L550.71 172.02 L551.41 172.41 L552.11 172.24 L552.81 172.09 L553.51 172.22 L554.21 172 L554.91 173.27 L555.61 171.98 L556.31 172.8 L557.01 173.56 L557.71 173.19 L558.4 173.55 L559.1 173.08 M369.65 215.57 L370.35 214.16 L371.05 212.44 L371.75 211.29 L372.45 210.48 L373.15 209.07 L373.85 207.84 L374.55 206.59 L375.25 205.45 L375.95 204.37 L376.65 202.77 L377.34 202.58 L378.04 200.98 L378.74 199.58 L379.44 198.65 L380.14 197.6 L380.84 196.51 L381.54 195.33 L382.24 194.17 L382.94 194.14 L383.64 193.66 L384.34 192.95 L385.04 192.74 L385.74 192.98 L386.44 191.69 L387.13 191.53 L387.83 191.2 L388.53 190.33 L389.23 190.17 L389.93 190.02 L390.63 190.28 L391.33 189.73 L392.03 188.68 L392.73 188.36 L393.43 187.78 L394.13 187.51 L394.83 187.43 L395.53 187.38 L396.23 186.95 L396.93 186.21 L397.62 186.25 L398.32 185.14 L399.02 185.6 L399.72 185.42 L400.42 184.42 L401.12 184.67 L401.82 182.96 L402.52 183.63 L403.22 182.89 L403.92 182.6 L404.62 182.47 L405.32 182.48 L406.02 182.16 L406.72 180.72 L407.41 180.31 L408.11 179.51 L408.81 180.6 L409.51 179.46 L410.21 179.36 L410.91 178.7 L411.61 178.94 L412.31 178.16 L413.01 177.82 L413.71 177.69 L414.41 177.14 L415.11 177.59 L415.81 176.75 L416.51 177.53 L417.2 176.53 L417.9 178.24 L418.6 177.13 L419.3 177.43 L420 177.08 L420.7 176.65 L421.4 176.74 L422.1 176.96 L422.8 176.28 L423.5 177.5 L424.2 177.19 L424.9 176.23 L425.6 176.64 L426.3 177.54 L427 176.53 L427.69 177.08 L428.39 175.97 L429.09 176.06 L429.79 176.7 L430.49 175.95 L431.19 176.79 L431.89 176.1 L432.59 176.25 L433.29 176.55 L433.99 177.09 L434.69 176.67 L435.39 177.49 L436.09 176.84 L436.79 177.38 L437.48 176.18 L438.18 177.06 L438.88 177.64 L439.58 176.44 L440.28 176.51 L440.98 176.82 L441.68 175.73 L442.38 176.2 L443.08 176.39 L443.78 176.57 L444.48 177.37 L445.18 175.88 L445.88 175.54 L446.58 175.99 L447.27 176.15 L447.97 175.43 L448.67 175.9 L449.37 175.06 L450.07 174.6 L450.77 174.17 L451.47 174.54 L452.17 174.46 L452.87 174.15 L453.57 173.81 L454.27 174.44 L454.97 174.76 L455.67 174.56 L456.37 174.74 L457.06 174.6 L457.76 174.32 L458.46 174.17 L459.16 174.29 L459.86 174.38 L460.56 174.6 L461.26 174.36 L461.96 174.25 L462.66 174.37 L463.36 174.16 L464.06 174.95 L464.76 175.02 L465.46 174.33 L466.16 175.01 L466.86 175.02 L467.55 175.41 L468.25 175 L468.95 175.64 L469.65 175.98 L470.35 175.72 L471.05 175.98 L471.75 175.59 L472.45 176.19 L473.15 176.11 L473.85 176.37 L474.55 176.28 L475.25 176.79 L475.95 176.24 L476.65 177.38 L477.34 177.11 L478.04 177.37 L478.74 176.98 L479.44 177.36 L480.14 177.32 L480.84 177.79 L481.54 178.08 L482.24 178.38 L482.94 178.21 L483.64 178.42 L484.34 178.23 L485.04 178.33 L485.74 178.22 L486.44 178.77 L487.13 179.14 L487.83 179.38 L488.53 179.05 L489.23 179.04 L489.93 178.52 L490.63 179.32 L491.33 178.8 L492.03 178.85 L492.73 180.1 L493.43 179.3 L494.13 179.42 L494.83 179.43 L495.53 180.06 L496.23 179.77 L496.93 180.42 L497.62 180.34 L498.32 180.39 L499.02 179.77 L499.72 180.64 L500.42 180.24 L501.12 180.65 L501.82 181.01 L502.52 180.69 L503.22 180.57 L503.92 181.15 L504.62 180.66 L505.32 181.23 L506.02 181.34 L506.72 180.94 L507.41 181.15 L508.11 181.48 L508.81 181.76 L509.51 181.13 L510.21 181.06 L510.91 181.36 L511.61 181.11 L512.31 181.79 L513.01 181.03 L513.71 181.02 L514.41 181.06 L515.11 181.39 L515.81 181.09 L516.51 181.04 L517.2 180.63 L517.9 180.89 L518.6 180.85 L519.3 181.17 L520 180.48 L520.7 180.28 L521.4 180.86 L522.1 180.33 L522.8 180.37 L523.5 180.42 L524.2 180.81 L524.9 179.51 L525.6 180.84 L526.3 179.89 L526.99 180.06 L527.69 179.36 L528.39 179.88 L529.09 179.6 L529.79 179.28 L530.49 179.24 L531.19 179.54 L531.89 178.98 L532.59 179.01 L533.29 178.7 L533.99 179.21 L534.69 178.96 L535.39 179.03 L536.09 179.15 L536.79 178.66 L537.48 178.54 L538.18 178.09 L538.88 178.74 L539.58 178.42 L540.28 178.08 L540.98 178.54 L541.68 178.44 L542.38 178.39 L543.08 178.69 L543.78 178.78 L544.48 177.93 L545.18 178.28 L545.88 178.36 L546.58 178.8 L547.27 178.24 L547.97 177.8 L548.67 178.68 L549.37 178.53 L550.07 177.68 L550.77 177.48 L551.47 177.35 L552.17 178.09 L552.87 177.54 L553.57 177.98 L554.27 177.4 L554.97 177.68 L555.67 177.39 L556.37 176.89 L557.06 177.24 L557.76 177.44 L558.46 177.3 L559.16 177.21 L559.86 177.52 L560.56 177.24 L561.26 177.1 L561.96 176.74 L562.66 178.19 L563.36 177.87 M373.91 223.3 L374.61 221.5 L375.31 219.91 L376 219.81 L376.7 218.86 L377.4 217.46 L378.1 217.87 L378.8 215.98 L379.5 216.14 L380.2 213.87 L380.9 213.15 L381.6 212.18 L382.3 210.88 L383 210.27 L383.7 208.62 L384.4 208.08 L385.1 206.95 L385.79 205.13 L386.49 205.32 L387.19 203.81 L387.89 203.53 L388.59 201.74 L389.29 200.88 L389.99 200.22 L390.69 198.92 L391.39 197.72 L392.09 196.89 L392.79 196.56 L393.49 195.81 L394.19 194.71 L394.89 195.22 L395.59 194.45 L396.28 193.65 L396.98 193.27 L397.68 192.44 L398.38 192.16 L399.08 192.41 L399.78 192.05 L400.48 192.42 L401.18 191.65 L401.88 191.13 L402.58 190.97 L403.28 190.49 L403.98 189.89 L404.68 190.11 L405.38 189.55 L406.07 189.61 L406.77 188.06 L407.47 188.51 L408.17 188.36 L408.87 187 L409.57 187.02 L410.27 186.22 L410.97 186.45 L411.67 185.22 L412.37 185.56 L413.07 185.61 L413.77 185.48 L414.47 185.5 L415.17 185 L415.86 184.45 L416.56 185.32 L417.26 185.51 L417.96 184.79 L418.66 184.55 L419.36 185.49 L420.06 185.11 L420.76 185.17 L421.46 184.49 L422.16 184.44 L422.86 184.85 L423.56 184.92 L424.26 184.12 L424.96 185.1 L425.66 183.95 L426.35 184.17 L427.05 183.26 L427.75 183.52 L428.45 184.04 L429.15 183.81 L429.85 183.71 L430.55 183.78 L431.25 183.36 L431.95 182.91 L432.65 183.77 L433.35 183.18 L434.05 182.43 L434.75 182.65 L435.45 183.19 L436.14 183.13 L436.84 183.11 L437.54 183.37 L438.24 182.27 L438.94 182.67 L439.64 182.96 L440.34 183.24 L441.04 182.82 L441.74 182.86 L442.44 181.98 L443.14 182.82 L443.84 182.57 L444.54 182.17 L445.24 182.28 L445.93 182.56 L446.63 183.27 L447.33 181.8 L448.03 182.02 L448.73 182.31 L449.43 182.05 L450.13 182.25 L450.83 182.08 L451.53 182.15 L452.23 181.22 L452.93 181.05 L453.63 181.02 L454.33 180.64 L455.03 180.6 L455.72 180.63 L456.42 180.91 L457.12 180.24 L457.82 179.92 L458.52 180.06 L459.22 179.76 L459.92 180.39 L460.62 180.56 L461.32 179.67 L462.02 180.38 L462.72 180.07 L463.42 180.25 L464.12 180.19 L464.82 180.34 L465.52 180.49 L466.21 181.03 L466.91 179.65 L467.61 180.38 L468.31 181.27 L469.01 180.95 L469.71 181.11 L470.41 181.04 L471.11 181.83 L471.81 180.71 L472.51 180.38 L473.21 181.21 L473.91 180.92 L474.61 181.07 L475.31 181.89 L476 181.04 L476.7 182.27 L477.4 181.95 L478.1 181.98 L478.8 181.48 L479.5 182.04 L480.2 182.26 L480.9 182.65 L481.6 182.44 L482.3 182.59 L483 182.46 L483.7 182.34 L484.4 182.74 L485.1 183.16 L485.79 183.37 L486.49 182.83 L487.19 183.52 L487.89 183.74 L488.59 183.18 L489.29 183.41 L489.99 183.93 L490.69 184.32 L491.39 184.64 L492.09 184.1 L492.79 184.8 L493.49 184.36 L494.19 185.14 L494.89 184.89 L495.59 184.85 L496.28 185.03 L496.98 185.07 L497.68 185.08 L498.38 185.72 L499.08 185.78 L499.78 185.47 L500.48 184.78 L501.18 185.59 L501.88 185.98 L502.58 185.94 L503.28 185.75 L503.98 185.37 L504.68 186.1 L505.38 185.72 L506.07 185.92 L506.77 186.18 L507.47 186.45 L508.17 186.18 L508.87 186.43 L509.57 185.97 L510.27 186.89 L510.97 185.79 L511.67 185.95 L512.37 186.03 L513.07 185.68 L513.77 186.03 L514.47 186.92 L515.17 186.24 L515.86 186.07 L516.56 186.49 L517.26 186.64 L517.96 186.01 L518.66 185.95 L519.36 186.27 L520.06 186.15 L520.76 186.2 L521.46 186.17 L522.16 185.91 L522.86 185.4 L523.56 186.36 L524.26 185.79 L524.96 184.94 L525.65 185.35 L526.35 185.31 L527.05 184.94 L527.75 185.54 L528.45 185.51 L529.15 185.57 L529.85 185.38 L530.55 184.6 L531.25 184.25 L531.95 184.62 L532.65 184.61 L533.35 184.08 L534.05 183.89 L534.75 183.92 L535.45 184.65 L536.14 184.03 L536.84 184.7 L537.54 183.55 L538.24 183.89 L538.94 183.75 L539.64 182.85 L540.34 182.86 L541.04 183.13 L541.74 183.17 L542.44 183.17 L543.14 183.43 L543.84 183.2 L544.54 182.43 L545.24 183.49 L545.93 183.39 L546.63 183.07 L547.33 182.78 L548.03 182.8 L548.73 183.49 L549.43 183.16 L550.13 183.2 L550.83 183.55 L551.53 183.02 L552.23 183.21 L552.93 182.63 L553.63 182.77 L554.33 183.18 L555.03 182.78 L555.72 182.87 L556.42 182.89 L557.12 182.74 L557.82 182.05 L558.52 182.52 L559.22 182.91 L559.92 182.45 L560.62 181.75 L561.32 181.14 L562.02 182.28 L562.72 181.94 L563.42 181.87 L564.12 182.24 L564.82 181.52 L565.52 181.68 L566.21 181.55 L566.91 180.81 L567.61 181.79 M378.16 231 L378.86 229.94 L379.56 229.48 L380.26 228.47 L380.96 226.69 L381.66 226.09 L382.36 225.4 L383.06 224.98 L383.76 223.34 L384.45 222.6 L385.15 221.08 L385.85 220.47 L386.55 219.84 L387.25 219.14 L387.95 218.3 L388.65 217.6 L389.35 216.33 L390.05 215.39 L390.75 214.26 L391.45 213.11 L392.15 212.42 L392.85 211.77 L393.55 210.27 L394.25 209.02 L394.94 209.01 L395.64 207.62 L396.34 206.72 L397.04 205.91 L397.74 205.17 L398.44 204.69 L399.14 204.06 L399.84 202.78 L400.54 202.23 L401.24 202.95 L401.94 202.95 L402.64 201.39 L403.34 201.43 L404.04 200.99 L404.73 201.03 L405.43 199.92 L406.13 199.71 L406.83 199.53 L407.53 198.6 L408.23 197.63 L408.93 197.62 L409.63 197.34 L410.33 197.56 L411.03 196.77 L411.73 196.66 L412.43 195.84 L413.13 195.71 L413.83 195.63 L414.52 195.12 L415.22 195.35 L415.92 194.54 L416.62 194.07 L417.32 194.6 L418.02 194.1 L418.72 194.81 L419.42 193.69 L420.12 193.6 L420.82 194.22 L421.52 193.06 L422.22 193.58 L422.92 194.18 L423.62 193.92 L424.31 192.94 L425.01 193.24 L425.71 192.56 L426.41 193.41 L427.11 192.68 L427.81 192.07 L428.51 192.51 L429.21 191.79 L429.91 191.99 L430.61 191.52 L431.31 191.34 L432.01 190.43 L432.71 191.58 L433.41 190.63 L434.11 190.25 L434.8 191.02 L435.5 190.4 L436.2 189.38 L436.9 189.72 L437.6 191.11 L438.3 189.93 L439 190.36 L439.7 189.47 L440.4 189.75 L441.1 189.59 L441.8 189.6 L442.5 189.08 L443.2 189.3 L443.9 189.41 L444.59 189.1 L445.29 188.82 L445.99 189.28 L446.69 188.5 L447.39 189.54 L448.09 188.73 L448.79 189.01 L449.49 188.22 L450.19 189.02 L450.89 188.95 L451.59 189.11 L452.29 187.72 L452.99 188.12 L453.69 188.65 L454.38 188.23 L455.08 188.33 L455.78 187.24 L456.48 187.53 L457.18 188.34 L457.88 187.35 L458.58 186.95 L459.28 187.18 L459.98 186.89 L460.68 187.01 L461.38 186.79 L462.08 186.71 L462.78 186.99 L463.48 186.52 L464.18 186.53 L464.87 186.57 L465.57 186.78 L466.27 186.88 L466.97 186.39 L467.67 186.16 L468.37 187.41 L469.07 186.7 L469.77 186 L470.47 186.2 L471.17 186.86 L471.87 186.11 L472.57 187.06 L473.27 187.03 L473.97 186.05 L474.66 187.02 L475.36 187 L476.06 187.62 L476.76 187.45 L477.46 187.59 L478.16 187.27 L478.86 188 L479.56 186.97 L480.26 187.6 L480.96 187.78 L481.66 187.88 L482.36 187.44 L483.06 187.23 L483.76 188.07 L484.45 187.4 L485.15 187.5 L485.85 187.72 L486.55 188.23 L487.25 189.04 L487.95 188.33 L488.65 188.87 L489.35 188.77 L490.05 189.71 L490.75 189.24 L491.45 189.18 L492.15 189.78 L492.85 189.45 L493.55 189.06 L494.24 189.76 L494.94 190.25 L495.64 189.2 L496.34 191.07 L497.04 190.72 L497.74 190.32 L498.44 190.81 L499.14 191.56 L499.84 190.66 L500.54 190.51 L501.24 191.19 L501.94 190.37 L502.64 190.79 L503.34 190.57 L504.04 191.65 L504.73 191.11 L505.43 190.53 L506.13 190.41 L506.83 190.72 L507.53 191.27 L508.23 191.24 L508.93 191.59 L509.63 190.96 L510.33 191.69 L511.03 191.4 L511.73 192.28 L512.43 192.09 L513.13 190.84 L513.83 191.52 L514.52 191.47 L515.22 192.41 L515.92 191.58 L516.62 190.77 L517.32 192.14 L518.02 192.47 L518.72 191.6 L519.42 191.73 L520.12 191.58 L520.82 191.95 L521.52 191.95 L522.22 191.87 L522.92 191.1 L523.62 191.31 L524.31 190.92 L525.01 191.59 L525.71 190.87 L526.41 191.2 L527.11 190.91 L527.81 190.49 L528.51 190.75 L529.21 190.79 L529.91 191.19 L530.61 190.41 L531.31 190.01 L532.01 190.43 L532.71 190.08 L533.41 190.6 L534.11 190.29 L534.8 189.48 L535.5 188.99 L536.2 189.47 L536.9 189.85 L537.6 189.21 L538.3 189.53 L539 188.9 L539.7 187.92 L540.4 188.43 L541.1 188.49 L541.8 187.93 L542.5 188.38 L543.2 188.02 L543.9 188 L544.59 187.84 L545.29 188.54 L545.99 187.66 L546.69 187.56 L547.39 188.77 L548.09 188.93 L548.79 188.23 L549.49 187.31 L550.19 187.89 L550.89 187.64 L551.59 187.7 L552.29 187.58 L552.99 188.17 L553.69 188.15 L554.38 187.77 L555.08 187.66 L555.78 187.65 L556.48 187.71 L557.18 187.99 L557.88 187.33 L558.58 187.52 L559.28 187.22 L559.98 188.55 L560.68 187.08 L561.38 188.33 L562.08 187.19 L562.78 187.42 L563.48 186.99 L564.17 187.08 L564.87 186.87 L565.57 186.53 L566.27 186.31 L566.97 186.6 L567.67 187.13 L568.37 186.32 L569.07 185.69 L569.77 186.16 L570.47 185.66 L571.17 186 L571.87 186.27 M382.42 237.31 L383.11 236.5 L383.81 236.54 L384.51 235.85 L385.21 234.76 L385.91 234.93 L386.61 234 L387.31 232.45 L388.01 231.75 L388.71 231.49 L389.41 230.78 L390.11 229.5 L390.81 229.34 L391.51 228.13 L392.21 227.15 L392.91 227.14 L393.6 225.06 L394.3 224.1 L395 223.09 L395.7 223.17 L396.4 222.22 L397.1 221.15 L397.8 220.47 L398.5 218.3 L399.2 218.65 L399.9 217.58 L400.6 216.6 L401.3 215.75 L402 214.64 L402.7 214.95 L403.39 213.53 L404.09 213.2 L404.79 213.14 L405.49 212.08 L406.19 212.19 L406.89 210.53 L407.59 211 L408.29 209.89 L408.99 209.35 L409.69 209.68 L410.39 209.36 L411.09 208.51 L411.79 208.53 L412.49 207.32 L413.18 207.17 L413.88 207.12 L414.58 206.69 L415.28 205.76 L415.98 206.26 L416.68 204.69 L417.38 205.35 L418.08 204.83 L418.78 204.85 L419.48 203.61 L420.18 203.7 L420.88 203.31 L421.58 203.38 L422.28 203.43 L422.97 202.64 L423.67 202.89 L424.37 202.83 L425.07 202.63 L425.77 202.42 L426.47 202.45 L427.17 202.46 L427.87 202.85 L428.57 201.23 L429.27 202.34 L429.97 202.44 L430.67 201.61 L431.37 200.27 L432.07 200.25 L432.77 200.65 L433.46 199.99 L434.16 199.79 L434.86 200.26 L435.56 199.31 L436.26 198.78 L436.96 198.16 L437.66 198.83 L438.36 199 L439.06 198.5 L439.76 197.52 L440.46 197.41 L441.16 197.18 L441.86 196.99 L442.56 197.01 L443.25 197.23 L443.95 196.35 L444.65 196.21 L445.35 195.98 L446.05 195.57 L446.75 196.4 L447.45 196.7 L448.15 196.35 L448.85 194.68 L449.55 195.78 L450.25 195.17 L450.95 195.26 L451.65 194.91 L452.35 193.87 L453.04 195.29 L453.74 195.1 L454.44 195.2 L455.14 194.8 L455.84 194.62 L456.54 195.12 L457.24 194.13 L457.94 194.11 L458.64 194.28 L459.34 194.4 L460.04 194.35 L460.74 194.8 L461.44 193.79 L462.14 194.33 L462.84 194.05 L463.53 193.36 L464.23 194.03 L464.93 193.78 L465.63 193.16 L466.33 192.69 L467.03 193.63 L467.73 192.86 L468.43 193.5 L469.13 193.04 L469.83 192.97 L470.53 193.58 L471.23 192.7 L471.93 192.38 L472.63 193.06 L473.32 192.98 L474.02 193.56 L474.72 192.4 L475.42 193.1 L476.12 193.66 L476.82 192.89 L477.52 193.8 L478.22 193.54 L478.92 194.15 L479.62 192.82 L480.32 192.54 L481.02 193.72 L481.72 193.79 L482.42 193.82 L483.11 193.87 L483.81 193.49 L484.51 193.19 L485.21 194.23 L485.91 193.72 L486.61 194.67 L487.31 193.41 L488.01 194.11 L488.71 194.41 L489.41 193.6 L490.11 194.31 L490.81 193.8 L491.51 193.99 L492.21 193.84 L492.9 194.9 L493.6 194.66 L494.3 194.64 L495 194.98 L495.7 194.43 L496.4 195.46 L497.1 194.93 L497.8 194.94 L498.5 196.4 L499.2 196.17 L499.9 196.28 L500.6 196.27 L501.3 196.01 L502 196.33 L502.7 196.31 L503.39 196.6 L504.09 196.52 L504.79 196.36 L505.49 196.31 L506.19 196.96 L506.89 196.74 L507.59 197.04 L508.29 196.84 L508.99 197.37 L509.69 196.46 L510.39 196.6 L511.09 196.94 L511.79 197.18 L512.49 197.11 L513.18 197.21 L513.88 197.58 L514.58 196.34 L515.28 195.7 L515.98 197.49 L516.68 197.48 L517.38 196.79 L518.08 196.78 L518.78 197.64 L519.48 197.78 L520.18 196.79 L520.88 197.78 L521.58 196.42 L522.28 197.15 L522.97 196.9 L523.67 196.91 L524.37 197.09 L525.07 196.89 L525.77 196.91 L526.47 196.25 L527.17 196.73 L527.87 196.65 L528.57 196.78 L529.27 196.75 L529.97 196.72 L530.67 196.35 L531.37 195.55 L532.07 195.74 L532.77 195.99 L533.46 195.33 L534.16 195.48 L534.86 195.68 L535.56 195.7 L536.26 195.94 L536.96 195.26 L537.66 195.34 L538.36 195.69 L539.06 195.41 L539.76 193.97 L540.46 194.47 L541.16 194.19 L541.86 194.13 L542.56 194.21 L543.25 193.68 L543.95 193.26 L544.65 193.65 L545.35 193.18 L546.05 192.84 L546.75 193.31 L547.45 192.95 L548.15 193.21 L548.85 192.61 L549.55 192.93 L550.25 192.3 L550.95 193.05 L551.65 192.09 L552.35 192.9 L553.04 193.13 L553.74 193.19 L554.44 192.6 L555.14 193.22 L555.84 192.19 L556.54 192.41 L557.24 192.72 L557.94 193.48 L558.64 192.92 L559.34 193.18 L560.04 193.57 L560.74 192.65 L561.44 191.89 L562.14 192.91 L562.83 192.31 L563.53 192.04 L564.23 192.84 L564.93 192.51 L565.63 192.17 L566.33 191.98 L567.03 192.51 L567.73 191.86 L568.43 191.87 L569.13 191.33 L569.83 192.2 L570.53 191.64 L571.23 191.47 L571.93 191.24 L572.63 190.68 L573.32 191.07 L574.02 189.61 L574.72 190.85 L575.42 190.13 L576.12 189.96 M386.67 245.84 L387.37 245.52 L388.07 245.01 L388.77 244.02 L389.47 242.91 L390.17 242.37 L390.87 241.44 L391.56 240.69 L392.26 240.51 L392.96 239.77 L393.66 238.06 L394.36 238.04 L395.06 237.69 L395.76 235.53 L396.46 235.79 L397.16 235.02 L397.86 233.46 L398.56 233.47 L399.26 232.56 L399.96 230.99 L400.66 230.92 L401.36 228.81 L402.05 228.97 L402.75 227.17 L403.45 227.41 L404.15 226.69 L404.85 226.23 L405.55 225.35 L406.25 224.76 L406.95 223.9 L407.65 222.93 L408.35 223.1 L409.05 222.34 L409.75 222.21 L410.45 220.22 L411.15 220.28 L411.84 219.72 L412.54 219.21 L413.24 218.29 L413.94 218.07 L414.64 217.38 L415.34 217.33 L416.04 216.87 L416.74 216.41 L417.44 216.72 L418.14 215.16 L418.84 215.84 L419.54 215.25 L420.24 214.26 L420.94 214.18 L421.63 213.58 L422.33 212.95 L423.03 212.62 L423.73 212.57 L424.43 212.97 L425.13 211.86 L425.83 212.82 L426.53 212.31 L427.23 211.7 L427.93 211.99 L428.63 211.77 L429.33 211.66 L430.03 210.76 L430.73 212.02 L431.43 210.26 L432.12 210.05 L432.82 210.18 L433.52 209.6 L434.22 209.87 L434.92 208.71 L435.62 207.59 L436.32 208.8 L437.02 207.53 L437.72 207.75 L438.42 207.51 L439.12 207.23 L439.82 206.77 L440.52 206.86 L441.22 206.58 L441.91 205.09 L442.61 205.46 L443.31 204.95 L444.01 204.78 L444.71 204.47 L445.41 205.03 L446.11 204.58 L446.81 203.75 L447.51 203.42 L448.21 204.08 L448.91 203.68 L449.61 203.71 L450.31 202.86 L451.01 202.81 L451.7 202.77 L452.4 202.87 L453.1 202.33 L453.8 202.31 L454.5 202.48 L455.2 201.92 L455.9 202.2 L456.6 201.45 L457.3 201.47 L458 201.89 L458.7 201.3 L459.4 201.41 L460.1 201.63 L460.8 201.63 L461.49 201.84 L462.19 201.55 L462.89 200.88 L463.59 200.46 L464.29 201.1 L464.99 200.71 L465.69 200.55 L466.39 200.3 L467.09 200.36 L467.79 199.97 L468.49 200.08 L469.19 200.62 L469.89 200.1 L470.59 201.12 L471.29 200.21 L471.98 200.08 L472.68 199.81 L473.38 200.12 L474.08 199.64 L474.78 199.42 L475.48 200.25 L476.18 200.11 L476.88 199.79 L477.58 199.69 L478.28 199.83 L478.98 199.57 L479.68 200.37 L480.38 199.62 L481.08 199.48 L481.77 199.53 L482.47 199.83 L483.17 200.13 L483.87 199.92 L484.57 200.14 L485.27 200.78 L485.97 200.44 L486.67 200.26 L487.37 200.5 L488.07 200.71 L488.77 200.48 L489.47 200.58 L490.17 200.45 L490.87 200.53 L491.56 200.49 L492.26 200.2 L492.96 200.57 L493.66 200.49 L494.36 201.16 L495.06 201.86 L495.76 200.87 L496.46 200.46 L497.16 200.88 L497.86 201.01 L498.56 201.28 L499.26 200.48 L499.96 201.1 L500.66 200.89 L501.36 200.66 L502.05 201.03 L502.75 200.49 L503.45 201.56 L504.15 201.27 L504.85 201.5 L505.55 202.15 L506.25 201.97 L506.95 202.31 L507.65 202.58 L508.35 202.13 L509.05 202.62 L509.75 201.71 L510.45 202.72 L511.15 202.68 L511.84 202.47 L512.54 202.74 L513.24 202.54 L513.94 202.82 L514.64 203.15 L515.34 203.56 L516.04 203.12 L516.74 202.02 L517.44 202.44 L518.14 202.56 L518.84 202.8 L519.54 202.67 L520.24 202.49 L520.94 203.14 L521.63 202.9 L522.33 202.92 L523.03 202.06 L523.73 202.95 L524.43 202.05 L525.13 202.67 L525.83 201.38 L526.53 202.46 L527.23 202.38 L527.93 201.82 L528.63 201.97 L529.33 201.9 L530.03 202.64 L530.73 201.72 L531.42 201.45 L532.12 202.09 L532.82 202.18 L533.52 202.36 L534.22 201.45 L534.92 201.67 L535.62 201.71 L536.32 202.12 L537.02 200.91 L537.72 201.12 L538.42 201.38 L539.12 200.69 L539.82 201.54 L540.52 200.71 L541.22 201.33 L541.91 200.25 L542.61 200.78 L543.31 200.03 L544.01 200.51 L544.71 200.01 L545.41 199.52 L546.11 200.12 L546.81 199.51 L547.51 199.66 L548.21 198.78 L548.91 199.14 L549.61 198.86 L550.31 198.63 L551.01 197.97 L551.7 198.74 L552.4 198.26 L553.1 198.32 L553.8 198.37 L554.5 198.43 L555.2 198.17 L555.9 198.02 L556.6 198.71 L557.3 198.01 L558 198.58 L558.7 198.12 L559.4 197.24 L560.1 198.53 L560.8 198.18 L561.49 198.25 L562.19 197.75 L562.89 198.3 L563.59 198.79 L564.29 198.67 L564.99 197.9 L565.69 197.79 L566.39 197.38 L567.09 197.9 L567.79 197.31 L568.49 197.86 L569.19 196.79 L569.89 197.19 L570.59 197.3 L571.29 196.82 L571.98 196.06 L572.68 196.94 L573.38 196.95 L574.08 196.7 L574.78 196.6 L575.48 196 L576.18 195.67 L576.88 195.7 L577.58 195.38 L578.28 194.81 L578.98 195.22 L579.68 195.41 L580.38 195.64 M390.92 254.08 L391.62 253.71 L392.32 252.8 L393.02 251.79 L393.72 251.02 L394.42 251.06 L395.12 250.05 L395.82 248.88 L396.52 248.2 L397.22 246.91 L397.92 246.79 L398.62 246.63 L399.32 244.58 L400.02 244.92 L400.71 243.88 L401.41 242.58 L402.11 242.38 L402.81 240.22 L403.51 240.34 L404.21 239.46 L404.91 239.09 L405.61 237.29 L406.31 237.2 L407.01 236.95 L407.71 235.43 L408.41 235.85 L409.11 234.69 L409.81 233.63 L410.5 232.97 L411.2 232.71 L411.9 231.02 L412.6 230.39 L413.3 230.69 L414 229.54 L414.7 229.33 L415.4 228.66 L416.1 227.54 L416.8 227.34 L417.5 226.91 L418.2 226.33 L418.9 226.36 L419.6 224.96 L420.29 225.31 L420.99 224.09 L421.69 224.4 L422.39 224.03 L423.09 222.9 L423.79 223.07 L424.49 223.07 L425.19 222.71 L425.89 221.95 L426.59 221.15 L427.29 221.35 L427.99 221.47 L428.69 221.47 L429.39 221.02 L430.09 220.52 L430.78 220.11 L431.48 220.19 L432.18 219.15 L432.88 219.75 L433.58 219.36 L434.28 218.59 L434.98 218.29 L435.68 218.32 L436.38 217.46 L437.08 218.06 L437.78 216.52 L438.48 215.95 L439.18 215.69 L439.88 216.06 L440.57 214.97 L441.27 215.36 L441.97 214.5 L442.67 214.75 L443.37 214.24 L444.07 213.77 L444.77 214.33 L445.47 213.39 L446.17 212.31 L446.87 213.83 L447.57 212.23 L448.27 211.74 L448.97 211.7 L449.67 211.5 L450.36 210.79 L451.06 210.99 L451.76 211.66 L452.46 211.09 L453.16 210.64 L453.86 210.28 L454.56 210.34 L455.26 210.03 L455.96 209.16 L456.66 210.82 L457.36 209.04 L458.06 208.97 L458.76 208.95 L459.46 209.04 L460.15 208.88 L460.85 208.63 L461.55 208.55 L462.25 208.8 L462.95 208.09 L463.65 208.61 L464.35 208.2 L465.05 208.22 L465.75 208.44 L466.45 207.65 L467.15 207.83 L467.85 208.18 L468.55 207.67 L469.25 208.1 L469.95 206.92 L470.64 207.21 L471.34 206.56 L472.04 207.51 L472.74 206.94 L473.44 207.55 L474.14 207.45 L474.84 207.09 L475.54 206.85 L476.24 206.61 L476.94 207.04 L477.64 206.47 L478.34 206.49 L479.04 207.2 L479.74 206.9 L480.43 207.18 L481.13 206.14 L481.83 207.02 L482.53 206.46 L483.23 206.45 L483.93 206.92 L484.63 207.03 L485.33 206.72 L486.03 207.18 L486.73 207.4 L487.43 207.31 L488.13 206.82 L488.83 206.91 L489.53 206.33 L490.22 207.77 L490.92 206.89 L491.62 207.58 L492.32 206.71 L493.02 206.92 L493.72 207.18 L494.42 206.69 L495.12 207.45 L495.82 207.54 L496.52 207.78 L497.22 207.65 L497.92 207.37 L498.62 207.17 L499.32 206.95 L500.02 207.57 L500.71 207.76 L501.41 207.6 L502.11 207.64 L502.81 207.66 L503.51 207.64 L504.21 207.85 L504.91 207.56 L505.61 207.78 L506.31 207.69 L507.01 208.23 L507.71 207.69 L508.41 207.59 L509.11 207.63 L509.81 208.17 L510.5 208.46 L511.2 208.59 L511.9 208.6 L512.6 208.44 L513.3 208.36 L514 208.98 L514.7 208.05 L515.4 208.95 L516.1 208.63 L516.8 208.66 L517.5 208.06 L518.2 207.67 L518.9 208.53 L519.6 208.49 L520.29 208.52 L520.99 208.43 L521.69 208.4 L522.39 207.35 L523.09 208.71 L523.79 208.3 L524.49 208.54 L525.19 208.06 L525.89 208.37 L526.59 207.9 L527.29 208.51 L527.99 207.23 L528.69 207.93 L529.39 208.67 L530.08 207.66 L530.78 208.07 L531.48 208.3 L532.18 207.63 L532.88 207.96 L533.58 207.42 L534.28 207.87 L534.98 207.25 L535.68 207.49 L536.38 207.36 L537.08 207.38 L537.78 207.52 L538.48 207.46 L539.18 207.07 L539.88 206.91 L540.57 207.28 L541.27 206.17 L541.97 206.32 L542.67 207.35 L543.37 206.41 L544.07 206.78 L544.77 206.58 L545.47 206.9 L546.17 205.86 L546.87 206.74 L547.57 206.35 L548.27 206.49 L548.97 205.33 L549.67 205.45 L550.36 206.28 L551.06 205.74 L551.76 205.21 L552.46 205.29 L553.16 205.05 L553.86 205.12 L554.56 204.41 L555.26 204.76 L555.96 203.86 L556.66 203.12 L557.36 204.06 L558.06 203.2 L558.76 203.61 L559.46 203.95 L560.15 203.78 L560.85 203.98 L561.55 203.53 L562.25 203.28 L562.95 203.17 L563.65 203.63 L564.35 203.97 L565.05 203.52 L565.75 202.82 L566.45 203.33 L567.15 203.44 L567.85 204.17 L568.55 203.48 L569.25 203.02 L569.95 203.5 L570.64 202.49 L571.34 203.09 L572.04 203.04 L572.74 202.76 L573.44 202.39 L574.14 201.78 L574.84 202.19 L575.54 202.47 L576.24 201.61 L576.94 201.18 L577.64 200.59 L578.34 201.42 L579.04 200.21 L579.74 200.31 L580.43 200.19 L581.13 200.46 L581.83 200.28 L582.53 200.1 L583.23 199.14 L583.93 199.2 L584.63 198.65 M395.18 262.03 L395.88 261.87 L396.58 261.03 L397.28 259.4 L397.98 259.79 L398.68 258.6 L399.37 257.71 L400.07 256.86 L400.77 255.81 L401.47 255.35 L402.17 253.75 L402.87 253.91 L403.57 252.89 L404.27 252.43 L404.97 251.54 L405.67 249.99 L406.37 249.21 L407.07 248.77 L407.77 247.62 L408.47 246.96 L409.16 246.67 L409.86 245.71 L410.56 244.79 L411.26 243.38 L411.96 243.56 L412.66 242.47 L413.36 241.65 L414.06 240.65 L414.76 240.23 L415.46 239.27 L416.16 239.41 L416.86 238.43 L417.56 238.43 L418.26 237.08 L418.95 235.56 L419.65 235.79 L420.35 235.3 L421.05 234.71 L421.75 234.26 L422.45 234.34 L423.15 233.65 L423.85 233.01 L424.55 232.47 L425.25 232.48 L425.95 231.82 L426.65 231.7 L427.35 231.59 L428.05 231 L428.74 230.73 L429.44 229.76 L430.14 229.24 L430.84 229.19 L431.54 229.16 L432.24 228.94 L432.94 228.99 L433.64 228.24 L434.34 227.09 L435.04 226.91 L435.74 226.94 L436.44 226.79 L437.14 226.37 L437.84 225.88 L438.54 225.72 L439.23 225.22 L439.93 225.36 L440.63 224.72 L441.33 224.55 L442.03 223.67 L442.73 224.24 L443.43 222.92 L444.13 223.13 L444.83 222.95 L445.53 222.42 L446.23 222.04 L446.93 221.85 L447.63 221.27 L448.33 221.33 L449.02 221.44 L449.72 220.21 L450.42 220.19 L451.12 219.26 L451.82 219.48 L452.52 220.15 L453.22 218.64 L453.92 219.14 L454.62 218.43 L455.32 217.55 L456.02 217.77 L456.72 218.41 L457.42 217.81 L458.12 218.21 L458.81 217.13 L459.51 216.98 L460.21 217.41 L460.91 216.67 L461.61 216.3 L462.31 216.19 L463.01 216.59 L463.71 216.44 L464.41 216.45 L465.11 216.37 L465.81 215.6 L466.51 215.57 L467.21 214.94 L467.91 215.21 L468.61 215.32 L469.3 215.63 L470 214.37 L470.7 214.8 L471.4 214.77 L472.1 215.06 L472.8 214.98 L473.5 214.25 L474.2 214.79 L474.9 214.12 L475.6 214.04 L476.3 214.37 L477 214.78 L477.7 213.95 L478.4 213.51 L479.09 214.33 L479.79 214.45 L480.49 213.51 L481.19 213.84 L481.89 214.11 L482.59 213.37 L483.29 213.93 L483.99 213.63 L484.69 213.95 L485.39 214.08 L486.09 213.7 L486.79 214.11 L487.49 214.48 L488.19 214 L488.88 213.33 L489.58 213.4 L490.28 213 L490.98 213.48 L491.68 213.26 L492.38 213.82 L493.08 214.11 L493.78 213.79 L494.48 214.37 L495.18 213.74 L495.88 214.23 L496.58 213.98 L497.28 214.44 L497.98 214.18 L498.67 213.78 L499.37 214.26 L500.07 214.46 L500.77 214.09 L501.47 213.87 L502.17 214.29 L502.87 214.68 L503.57 214.82 L504.27 214.75 L504.97 213.82 L505.67 214.26 L506.37 214.04 L507.07 213.81 L507.77 214.12 L508.47 214.05 L509.16 214.43 L509.86 214.87 L510.56 214.01 L511.26 214.31 L511.96 214.06 L512.66 214.72 L513.36 214.37 L514.06 213.56 L514.76 214.68 L515.46 214.34 L516.16 213.89 L516.86 214.49 L517.56 214.36 L518.26 215.24 L518.95 214.12 L519.65 214.58 L520.35 213.9 L521.05 214.42 L521.75 214.5 L522.45 214.16 L523.15 214.38 L523.85 214.45 L524.55 213.62 L525.25 213.78 L525.95 214.06 L526.65 213.73 L527.35 213.66 L528.05 213.69 L528.74 213.83 L529.44 213.76 L530.14 213.56 L530.84 213.43 L531.54 213.44 L532.24 213.73 L532.94 213.48 L533.64 213.22 L534.34 213.7 L535.04 213.28 L535.74 212.93 L536.44 213.11 L537.14 213.23 L537.84 213.09 L538.54 213.22 L539.23 212.62 L539.93 213.09 L540.63 213.56 L541.33 213.33 L542.03 212.71 L542.73 212.7 L543.43 212.92 L544.13 213.19 L544.83 212.7 L545.53 212.9 L546.23 212.78 L546.93 212.46 L547.63 212.69 L548.33 212.2 L549.02 212.52 L549.72 212.32 L550.42 212.14 L551.12 211.4 L551.82 211.23 L552.52 211.36 L553.22 211.88 L553.92 211.44 L554.62 210.94 L555.32 210.82 L556.02 211.59 L556.72 210.8 L557.42 210.89 L558.12 210.14 L558.81 210 L559.51 210.28 L560.21 209.09 L560.91 209.86 L561.61 208.67 L562.31 209.54 L563.01 209.39 L563.71 208.53 L564.41 209.36 L565.11 209.25 L565.81 208.43 L566.51 208.95 L567.21 208.7 L567.91 209.3 L568.6 208.09 L569.3 208.35 L570 208.52 L570.7 208.31 L571.4 208.69 L572.1 208.56 L572.8 208.88 L573.5 208 L574.2 207.53 L574.9 207.53 L575.6 207.34 L576.3 207.25 L577 207.69 L577.7 207.63 L578.4 206.7 L579.09 206.67 L579.79 206.14 L580.49 206.39 L581.19 206.41 L581.89 205.66 L582.59 205.82 L583.29 205.97 L583.99 205.36 L584.69 205.2 L585.39 205.06 L586.09 204.59 L586.79 203.77 L587.49 202.99 L588.19 202.96 L588.88 203.53 M399.43 271.18 L400.13 270.53 L400.83 269.25 L401.53 268.56 L402.23 267.28 L402.93 266.83 L403.63 264.5 L404.33 264.48 L405.03 263 L405.73 262.5 L406.43 261.25 L407.13 260.89 L407.82 259.71 L408.52 258.35 L409.22 257.61 L409.92 257.71 L410.62 255.8 L411.32 255.78 L412.02 254.34 L412.72 253.43 L413.42 253.06 L414.12 252.13 L414.82 251.33 L415.52 250.31 L416.22 249.36 L416.92 248.46 L417.61 248.13 L418.31 246.8 L419.01 247.24 L419.71 245.53 L420.41 245.65 L421.11 244.63 L421.81 244.36 L422.51 243.68 L423.21 243.5 L423.91 242.44 L424.61 241.28 L425.31 241.5 L426.01 241.08 L426.71 240.6 L427.4 239.89 L428.1 239.8 L428.8 239.32 L429.5 238.84 L430.2 238.03 L430.9 237.79 L431.6 238.19 L432.3 237.65 L433 237.05 L433.7 236.38 L434.4 235.98 L435.1 236.07 L435.8 234.83 L436.5 235.36 L437.2 234.42 L437.89 234.08 L438.59 233.66 L439.29 233.85 L439.99 233.37 L440.69 233.82 L441.39 233.61 L442.09 232.81 L442.79 231.99 L443.49 231.54 L444.19 231.67 L444.89 230.92 L445.59 230.8 L446.29 230.15 L446.99 231.05 L447.68 230.46 L448.38 230.25 L449.08 229.99 L449.78 228.69 L450.48 229.4 L451.18 229.11 L451.88 228.66 L452.58 227.91 L453.28 228.16 L453.98 227.45 L454.68 227.27 L455.38 227.48 L456.08 227.87 L456.78 227.11 L457.47 226.99 L458.17 225.66 L458.87 226.33 L459.57 226.26 L460.27 225.48 L460.97 225.39 L461.67 225.54 L462.37 224.56 L463.07 224.42 L463.77 224.46 L464.47 224.64 L465.17 224.5 L465.87 224.73 L466.57 223.63 L467.27 223.44 L467.96 223.76 L468.66 223.21 L469.36 221.79 L470.06 223.31 L470.76 223.39 L471.46 222.35 L472.16 222.6 L472.86 222.48 L473.56 221.92 L474.26 222.08 L474.96 221.54 L475.66 221.61 L476.36 221.26 L477.06 221.56 L477.75 222.36 L478.45 220.93 L479.15 222.02 L479.85 220.9 L480.55 221.14 L481.25 221.69 L481.95 221.1 L482.65 220.74 L483.35 221.43 L484.05 220.97 L484.75 221.24 L485.45 221.3 L486.15 221.14 L486.85 220.39 L487.54 220.59 L488.24 220.84 L488.94 220.85 L489.64 220.75 L490.34 220.69 L491.04 220.72 L491.74 221.45 L492.44 220.44 L493.14 221.13 L493.84 221.78 L494.54 220.54 L495.24 221.28 L495.94 220.91 L496.64 220.9 L497.33 221.12 L498.03 220.71 L498.73 221.05 L499.43 221.07 L500.13 221.36 L500.83 221.1 L501.53 221.42 L502.23 221 L502.93 220.52 L503.63 220.65 L504.33 220.87 L505.03 221.54 L505.73 220.64 L506.43 220.68 L507.13 220.23 L507.82 221.87 L508.52 221.02 L509.22 221.14 L509.92 220.59 L510.62 221.41 L511.32 221.15 L512.02 220.12 L512.72 220.6 L513.42 221.72 L514.12 220.96 L514.82 220.44 L515.52 221.19 L516.22 220.71 L516.92 220.89 L517.61 221.46 L518.31 221.15 L519.01 220.46 L519.71 220.42 L520.41 221.08 L521.11 220.4 L521.81 221.07 L522.51 220.68 L523.21 220.74 L523.91 221.17 L524.61 220.51 L525.31 220.73 L526.01 221.54 L526.71 220.76 L527.4 220.67 L528.1 220.58 L528.8 220.53 L529.5 220.33 L530.2 220.87 L530.9 219.49 L531.6 219.69 L532.3 219.5 L533 219.58 L533.7 219.34 L534.4 219.34 L535.1 219.55 L535.8 219.58 L536.5 218.87 L537.2 218.41 L537.89 218.61 L538.59 218 L539.29 219.06 L539.99 218.55 L540.69 218.63 L541.39 217.88 L542.09 217.64 L542.79 218.47 L543.49 217.97 L544.19 218.33 L544.89 218.63 L545.59 218.28 L546.29 218.65 L546.99 217.66 L547.68 218.01 L548.38 217.79 L549.08 218.08 L549.78 219.11 L550.48 217.84 L551.18 218.06 L551.88 218.96 L552.58 217.91 L553.28 217.47 L553.98 217.11 L554.68 218.04 L555.38 217.22 L556.08 217.26 L556.78 217.31 L557.47 217.21 L558.17 216.74 L558.87 216.56 L559.57 216.36 L560.27 216.6 L560.97 216.76 L561.67 215.58 L562.37 215.42 L563.07 215.95 L563.77 215.57 L564.47 215.07 L565.17 215.88 L565.87 214.86 L566.57 213.98 L567.26 214.63 L567.96 214.86 L568.66 213.66 L569.36 214.33 L570.06 214.13 L570.76 214.26 L571.46 213.92 L572.16 214.57 L572.86 214.28 L573.56 214.24 L574.26 213.22 L574.96 213.49 L575.66 212.88 L576.36 213.96 L577.06 213.29 L577.75 212.35 L578.45 213.05 L579.15 213.27 L579.85 212.68 L580.55 212.33 L581.25 212.01 L581.95 211.3 L582.65 211.06 L583.35 210.77 L584.05 210.9 L584.75 211.07 L585.45 210.83 L586.15 210.95 L586.85 209.64 L587.54 209.4 L588.24 209.57 L588.94 209.68 L589.64 208.81 L590.34 208.61 L591.04 208.46 L591.74 208.69 L592.44 207.88 L593.14 207.91 M403.69 279.43 L404.39 278.26 L405.09 277.08 L405.79 276.19 L406.48 274.23 L407.18 273.33 L407.88 271.96 L408.58 271 L409.28 269.95 L409.98 269 L410.68 268.54 L411.38 267.83 L412.08 266.53 L412.78 264.94 L413.48 263.82 L414.18 263.1 L414.88 262.14 L415.58 260.51 L416.27 260.4 L416.97 260.01 L417.67 259.07 L418.37 257.78 L419.07 256.62 L419.77 255.88 L420.47 255.56 L421.17 254.5 L421.87 254.18 L422.57 253.8 L423.27 253.06 L423.97 252.03 L424.67 251.35 L425.37 251.56 L426.06 250.94 L426.76 249.95 L427.46 248.61 L428.16 249.33 L428.86 248.84 L429.56 247.68 L430.26 247.15 L430.96 247.1 L431.66 246.41 L432.36 245.77 L433.06 246.19 L433.76 245.1 L434.46 244.45 L435.16 243.93 L435.86 243.45 L436.55 243.56 L437.25 243.75 L437.95 242.34 L438.65 242.23 L439.35 242.44 L440.05 241.48 L440.75 241.17 L441.45 241.29 L442.15 241.81 L442.85 240.77 L443.55 240.54 L444.25 240.25 L444.95 239.62 L445.65 239.67 L446.34 238.78 L447.04 237.86 L447.74 238.72 L448.44 237.56 L449.14 237.87 L449.84 237.17 L450.54 237.17 L451.24 236.38 L451.94 236.92 L452.64 236.16 L453.34 236.53 L454.04 235.95 L454.74 235.86 L455.44 235.24 L456.13 236.08 L456.83 235.82 L457.53 234.59 L458.23 234.79 L458.93 234.11 L459.63 234.97 L460.33 234.3 L461.03 233.96 L461.73 233.33 L462.43 233.82 L463.13 233.77 L463.83 233.11 L464.53 233.21 L465.23 233.24 L465.92 232.43 L466.62 233.22 L467.32 232.64 L468.02 231.49 L468.72 231.98 L469.42 231.69 L470.12 231.2 L470.82 230.68 L471.52 230.7 L472.22 231.06 L472.92 230.7 L473.62 229.89 L474.32 230.15 L475.02 230.17 L475.72 229.42 L476.41 229.14 L477.11 228.61 L477.81 229.7 L478.51 229.41 L479.21 229.28 L479.91 228.76 L480.61 228.97 L481.31 228.26 L482.01 229.62 L482.71 228.13 L483.41 228.67 L484.11 228.45 L484.81 228.06 L485.51 228.15 L486.2 228.57 L486.9 227.56 L487.6 227.87 L488.3 228.24 L489 227.95 L489.7 228.42 L490.4 228.45 L491.1 228.06 L491.8 227.78 L492.5 227.86 L493.2 228.17 L493.9 228.37 L494.6 228.47 L495.3 227.2 L495.99 227.65 L496.69 228.08 L497.39 227.3 L498.09 227.55 L498.79 227.9 L499.49 227.97 L500.19 227.3 L500.89 227.62 L501.59 227.13 L502.29 227.63 L502.99 228.01 L503.69 228.02 L504.39 228.08 L505.09 227.73 L505.79 227.74 L506.48 227.61 L507.18 227.68 L507.88 228.25 L508.58 227.94 L509.28 228.22 L509.98 227.67 L510.68 228.35 L511.38 228.07 L512.08 228.17 L512.78 228.07 L513.48 227.92 L514.18 227.23 L514.88 227.89 L515.58 228.33 L516.27 227.88 L516.97 227.46 L517.67 227.52 L518.37 227.61 L519.07 226.93 L519.77 227.23 L520.47 227.59 L521.17 227.13 L521.87 228.07 L522.57 227.6 L523.27 227.83 L523.97 227.39 L524.67 226.8 L525.37 227.56 L526.06 226.71 L526.76 227.64 L527.46 226.64 L528.16 227.76 L528.86 227.34 L529.56 226.54 L530.26 226.84 L530.96 226.62 L531.66 226.54 L532.36 226.31 L533.06 226.28 L533.76 226.41 L534.46 225.97 L535.16 225.64 L535.85 225.83 L536.55 225.13 L537.25 224.45 L537.95 225.56 L538.65 224.96 L539.35 224.68 L540.05 224.39 L540.75 224.19 L541.45 224.35 L542.15 223.93 L542.85 223.78 L543.55 223.69 L544.25 222.96 L544.95 223.4 L545.65 223.93 L546.34 223.92 L547.04 223.07 L547.74 223.42 L548.44 223.56 L549.14 223.91 L549.84 223.61 L550.54 223.66 L551.24 223.98 L551.94 223.92 L552.64 223.49 L553.34 223.54 L554.04 223.63 L554.74 223.87 L555.44 224.27 L556.13 223.39 L556.83 223.04 L557.53 223.01 L558.23 222.95 L558.93 223.15 L559.63 222.97 L560.33 222.97 L561.03 222.33 L561.73 222.73 L562.43 221.64 L563.13 221.97 L563.83 222.2 L564.53 221.88 L565.23 222.29 L565.92 221.77 L566.62 221.4 L567.32 220.14 L568.02 221.19 L568.72 220.33 L569.42 220.46 L570.12 220.42 L570.82 219.9 L571.52 220.73 L572.22 219.45 L572.92 218.91 L573.62 219.39 L574.32 219.38 L575.02 219.15 L575.72 218.81 L576.41 219.1 L577.11 218.72 L577.81 218.42 L578.51 218.59 L579.21 218.15 L579.91 218.01 L580.61 217.7 L581.31 218.17 L582.01 217.82 L582.71 217.59 L583.41 216.78 L584.11 216.94 L584.81 217.46 L585.51 217.11 L586.2 215.66 L586.9 216.03 L587.6 216.41 L588.3 216.03 L589 215.37 L589.7 214.62 L590.4 214.28 L591.1 214.76 L591.8 214.46 L592.5 213.32 L593.2 214.14 L593.9 212.88 L594.6 213.06 L595.3 212.85 L595.99 212.1 L596.69 212.11 L597.39 212.32" fill="none" stroke="#ca1039" stroke-width="1.1" stroke-linejoin="round"/>
</svg></body></html>
